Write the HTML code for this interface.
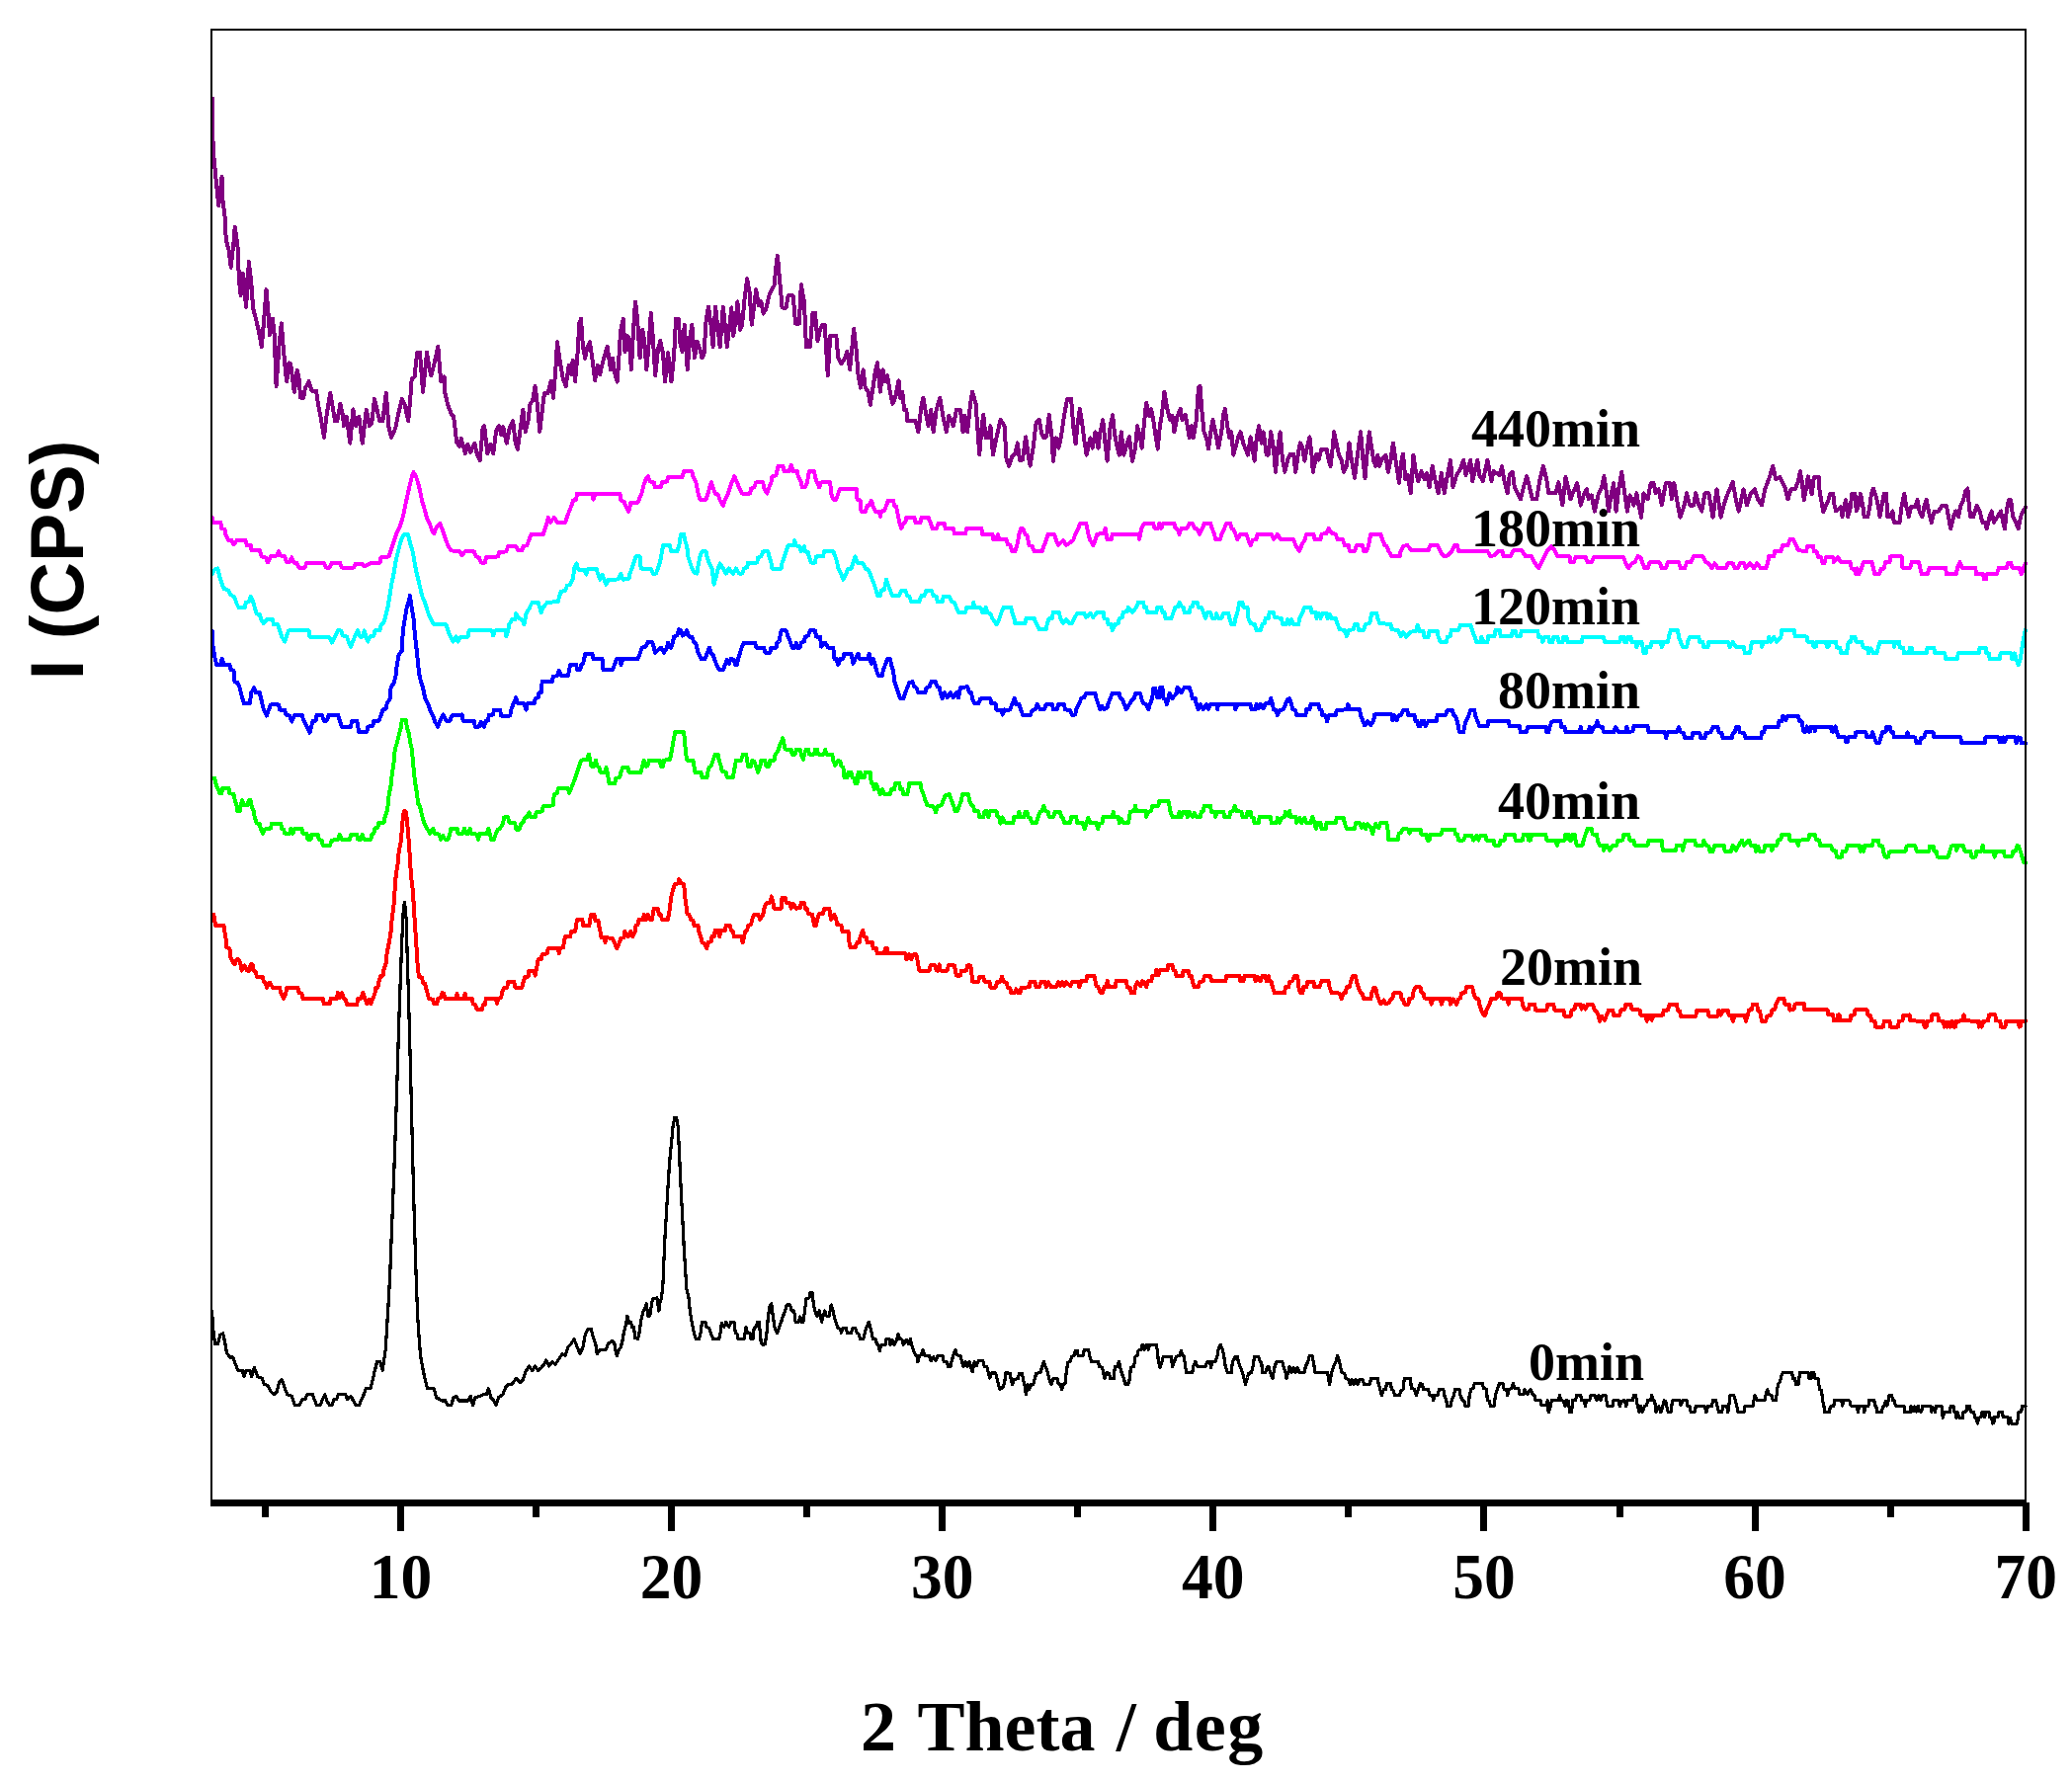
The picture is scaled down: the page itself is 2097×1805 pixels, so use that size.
<!DOCTYPE html>
<html><head><meta charset="utf-8"><title>XRD patterns</title>
<style>
html,body{margin:0;padding:0;background:#fff;}
body{width:2097px;height:1805px;overflow:hidden;}
svg{display:block;}
.tk{font-family:"Liberation Serif","Times New Roman",serif;font-weight:bold;font-size:65.5px;text-anchor:middle;fill:#000;}
.lb{font-family:"Liberation Serif","Times New Roman",serif;font-weight:bold;font-size:54px;text-anchor:end;fill:#000;}
.xt{font-family:"Liberation Serif","Times New Roman",serif;font-weight:bold;font-size:72px;text-anchor:start;fill:#000;}
.yt{font-family:"Liberation Sans",Arial,sans-serif;font-weight:bold;font-size:74px;text-anchor:middle;fill:#000;}
polyline{fill:none;stroke-linejoin:round;stroke-linecap:round;}
</style></head><body>
<svg width="2097" height="1805" viewBox="0 0 2097 1805">
<rect x="0" y="0" width="2097" height="1805" fill="#fff"/>
<g shape-rendering="crispEdges">
<polyline stroke="#000000" stroke-width="3.2" points="214.5,1327 215.7,1345.2 217.6,1360.3 220.6,1360.3 222.7,1351.2 225.7,1349.7 227.9,1360.3 229.4,1369.4 232.7,1374 235.7,1374 237.9,1380 240.9,1387.6 245.4,1387.6 246.9,1393.6 249.1,1387.6 253,1387.6 254.5,1393.6 257.5,1384.6 260.6,1393.6 265.1,1395.2 267.2,1401.2 271.2,1402.7 274.2,1408.8 277.2,1411.8 280.3,1408.8 282.4,1399.7 285.4,1396.7 287.8,1404.2 290.9,1411.8 295.4,1413.3 298.4,1422.4 303,1422.4 306,1416.4 309,1416.4 310.5,1411.8 316.6,1411.8 318.1,1416.4 320.5,1422.4 324.2,1422.4 326.6,1416.4 328.7,1411.8 330.8,1417.9 333.3,1422.4 336.3,1422.4 337.8,1416.4 340.8,1416.4 342.3,1411.8 349.9,1411.8 351.4,1416.4 355.1,1413.3 357.5,1417.9 359.9,1422.4 363.5,1422.4 366,1416.4 368.1,1411.8 370.2,1405.8 375,1405.8 377.2,1396.7 379.3,1387.6 381.7,1378.5 384.7,1378.5 387.2,1387.6 388.4,1378.5 390.2,1366.4 391.7,1342.2 393.2,1317.9 394.7,1290.7 396.2,1251.3 397.8,1211.9 399.3,1172.6 400.8,1130.2 402.3,1081.7 403.8,1033.3 405.3,990.9 406.8,951.5 408.4,918.2 409.6,913.6 411.1,930.3 412,960.6 413.2,999.9 414.4,1042.3 415.6,1087.8 416.8,1136.2 418,1184.7 419.3,1233.1 420.5,1272.5 421.7,1308.8 422.9,1336.1 424.1,1354.3 425.6,1372.4 427.7,1384.6 430.2,1396.7 432.6,1405.8 439.2,1405.8 441.7,1414.8 444.7,1416.4 446.8,1417.9 450.8,1417.9 452.9,1422.4 456.8,1422.4 458.9,1414.8 462,1413.3 464.1,1417.9 474.1,1417.9 476.2,1413.3 478.6,1422.4 481,1414.8 486.2,1413.3 489.2,1411.8 492.2,1411.8 494.4,1405.8 496.8,1414.8 499.8,1417.9 502.2,1422.4 504.4,1414.8 508.9,1411.8 511.9,1404.2 515,1401.2 518,1401.2 522.5,1395.2 526.5,1399.7 529.5,1396.7 531.6,1389.1 535.6,1383 538.6,1387.6 541.6,1383 544.6,1387.6 547.7,1384.6 550.7,1381.5 552.8,1377 555.8,1383 558.9,1378.5 561.9,1381.5 564.9,1377 568.9,1370.9 571.9,1372.4 574.9,1363.4 578,1360.3 581,1355.8 584,1363.4 587,1370.9 590.1,1363.4 592.2,1351.2 595.2,1345.2 598.2,1345.2 600.4,1354.3 602.8,1360.3 604.3,1370.9 607.3,1366.4 613.4,1366.4 615.5,1360.3 620,1357.3 621.9,1360.5 622.7,1365.6 624.3,1372.7 625.9,1367.6 628.4,1363.5 630.4,1355.4 631.4,1348.3 633.4,1341.2 634.9,1332.1 636.5,1339.2 638.5,1338.2 639.5,1343.3 641.6,1343.3 642.6,1354.4 645.6,1355.4 647,1349.3 648.7,1337.2 650.7,1328.1 652.7,1324 654.3,1319.9 655.7,1332.1 657.8,1332.1 658.8,1325 660.4,1314.9 664.9,1313.9 665.9,1321 666.9,1327 667.9,1318.9 669.5,1313.9 671,1298.7 672,1274.3 673,1252 674.6,1225.7 676,1201.4 677.6,1177 679.5,1156.8 681.1,1140.5 682.7,1131.4 684.7,1131.4 686.2,1140.5 687.2,1160.8 688.4,1187.2 689.8,1215.5 691.2,1241.9 692.2,1262.2 693.7,1286.5 694.9,1304.7 696.9,1312.9 698.3,1327 700.3,1339.2 702.4,1349.3 704.4,1355.4 707.4,1355.4 709.1,1349.3 710.5,1338.2 713.9,1338.2 715.1,1343.3 717.6,1344.3 719.6,1350.4 721.6,1355.4 727.7,1355.4 729.3,1348.3 730.3,1339.2 732.8,1343.3 734.8,1338.2 737.8,1343.3 739.9,1338.2 742.9,1338.2 744.3,1349.3 746,1350.4 747,1355.4 753.1,1355.4 754.1,1349.3 755.1,1343.3 756.5,1349.3 759.1,1349.3 760.1,1355.4 762.2,1355.4 763.2,1344.3 765.2,1343.3 766.6,1338.2 768.3,1338.2 769.3,1349.3 770.3,1359.5 772.3,1361.5 774.3,1360.5 776,1349.3 777.4,1333.1 778.8,1323 780.8,1319.9 782.4,1333.1 784.1,1344.3 786.5,1349.3 788.5,1344.3 790.6,1338.2 792.6,1332.1 794.6,1327 796.2,1321 799.7,1321 801.1,1327 803.7,1327 805.1,1338.2 807.8,1338.2 809.8,1333.1 810.8,1338.2 812.9,1338.2 814.5,1327 815.9,1314.9 818.9,1313.9 819.9,1308.8 822,1308.8 823.4,1319.9 824.6,1327 827,1332.1 829.1,1327 830.5,1333.1 831.7,1338.2 833.1,1332.1 834.7,1327 836.2,1332.1 839.2,1332.1 841.2,1321 843.3,1327 844.3,1333.1 845.7,1337.2 847.7,1344.3 850.4,1345.3 851.4,1349.3 853.4,1344.3 856.4,1344.3 857.4,1349.3 861.5,1349.3 863.1,1344.3 865.6,1344.3 867.2,1349.3 869.2,1350.4 870.6,1355.4 873.7,1355.4 875.3,1349.3 876.7,1344.3 879.3,1338.2 880.8,1343.3 882.2,1349.3 883.4,1355.4 885.8,1355.4 887.5,1360.5 888.9,1361.5 890.3,1367.6 891.9,1361.5 896,1361.5 897,1355.4 900,1355.4 901,1361.5 903.1,1356.4 905.1,1361.5 907.7,1356.4 909.1,1350.4 910.6,1355.4 913.2,1356.4 914.2,1361.5 917.3,1356.4 919.3,1360.5 921.3,1355.4 922.7,1361.5 924.3,1366.6 926.4,1371.6 928,1372.7 928.8,1378.7 930.4,1372.7 932.5,1371.6 934.1,1366.6 936.1,1372.7 940.6,1372.7 942.2,1377.7 944.6,1373.7 947.1,1377.7 949.1,1372.7 954.3,1372.7 955.2,1378.7 958.4,1378.7 959.8,1383.8 961.8,1383.8 963.3,1377.7 964.9,1371.6 966.9,1366.6 968.5,1371.6 972,1372.7 973.4,1377.7 975,1383.8 977.1,1378.7 979.1,1383.8 981.1,1378.7 982.7,1383.8 984.1,1388.9 986.2,1378.7 988.2,1382.8 990.2,1377.7 994.9,1377.7 996.3,1383.8 998.9,1383.8 1000.4,1389.9 1001.8,1395 1003.4,1389.9 1007.5,1389.9 1009.1,1396 1010.5,1402 1011.9,1406.1 1014.6,1405.1 1016.6,1400 1018,1389.9 1020,1389.9 1022.3,1390.5 1023.3,1396.6 1024.7,1401.6 1026.4,1396.6 1030.4,1395.5 1031.4,1390.5 1034.5,1390.5 1035.5,1396.6 1036.9,1401.6 1038.5,1411.8 1040.1,1401.6 1041.6,1406.7 1043.6,1401.6 1045.6,1401.6 1047,1396.6 1048.7,1390.5 1053.1,1389.5 1054.7,1383.4 1056.4,1378.3 1058.4,1384.4 1060.4,1389.5 1061.8,1395.5 1063.9,1401.6 1065.9,1395.5 1069.9,1395.5 1071,1400.6 1073.4,1401.6 1074.6,1406.7 1076,1401.6 1078,1400.6 1079.1,1390.5 1080.7,1379.3 1083.1,1378.3 1084.7,1373.2 1087.2,1372.2 1088.2,1367.2 1090.2,1367.2 1091.2,1372.2 1096.3,1372.2 1097.3,1366.2 1101.4,1366.2 1103,1373.2 1104.4,1378.3 1111.5,1378.3 1112.5,1383.4 1115.5,1384.4 1116.6,1389.5 1118,1395.5 1120,1389.5 1122.6,1390.5 1123.7,1395.5 1127.3,1395.5 1128.3,1383.4 1130.8,1383.4 1132.4,1378.3 1133.8,1384.4 1135.4,1390.5 1137.4,1395.5 1138.9,1401.6 1141.5,1401.6 1143.5,1395.5 1144.3,1384.4 1147.6,1383.4 1149,1373.2 1151,1372.2 1152,1367.2 1155.1,1366.2 1156.1,1361.1 1158.1,1366.2 1160.1,1361.1 1162.2,1366.2 1163.8,1361.1 1170.3,1361.1 1171.3,1367.2 1172.3,1377.3 1173.9,1384.4 1176,1378.3 1177.4,1373.2 1185.5,1373.2 1186.5,1383.4 1188.5,1378.3 1190.6,1373.2 1194.2,1372.2 1195.2,1367.2 1196.6,1372.2 1198.3,1373.2 1199.7,1383.4 1200.7,1389.5 1206.8,1389.5 1207.8,1383.4 1209.8,1378.3 1211.8,1383.4 1219.9,1383.4 1222,1378.3 1224.6,1378.3 1225.6,1384.4 1227,1378.3 1230.1,1378.3 1232.1,1372.2 1233.1,1366.2 1235.2,1361.1 1237.2,1366.2 1238.8,1373.2 1240.2,1383.4 1242.2,1389.5 1246.3,1389.5 1247.3,1379.3 1250.4,1373.2 1252.4,1373.2 1253.4,1379.3 1255.4,1384.4 1257.4,1389.5 1259.1,1395.5 1260.5,1401.6 1262.5,1394.5 1263.5,1390.5 1266.6,1389.5 1268,1383.4 1269.6,1373.2 1273.7,1373.2 1275.3,1378.3 1276.7,1379.3 1277.7,1389.5 1280.8,1389.5 1282.2,1384.4 1283.8,1383.4 1285.8,1389.5 1287.9,1395.5 1289.9,1384.4 1291.9,1378.3 1297.6,1378.3 1299,1383.4 1301,1389.5 1302,1395.5 1303.7,1389.5 1305.1,1383.4 1307.1,1389.5 1309.1,1384.4 1311.2,1389.5 1313.2,1384.4 1315.2,1389.5 1320.3,1389.5 1321.3,1383.4 1323.9,1378.3 1325.4,1372.2 1328,1372.2 1329.4,1379.3 1331,1389.5 1343.6,1389.5 1344.6,1395.5 1345.6,1401.6 1347.7,1389.5 1349.7,1383.4 1351.7,1379.3 1353.7,1372.2 1355.8,1379.3 1357.8,1389.5 1360.8,1390.5 1361.8,1395.5 1364.9,1396.6 1366.5,1401.6 1367.9,1396.6 1370,1401.6 1372,1396.6 1374,1401.6 1376,1396.6 1379.1,1396.6 1380.7,1401.6 1386.2,1401.6 1387.6,1395.5 1394.3,1395.5 1395.3,1401.6 1396.9,1406.7 1398.3,1412.8 1400.4,1406.7 1402.4,1406.7 1403.4,1400.6 1407.5,1400.6 1408.5,1406.7 1410.5,1407.7 1411.5,1412.8 1416.6,1412.8 1417.6,1407.7 1420,1406.7 1421.3,1395.3 1427.4,1395.3 1428.4,1405.4 1431.4,1406.4 1433.4,1412.5 1435.5,1406.4 1437.5,1400.3 1439.5,1401.4 1440.5,1406.4 1445.6,1406.4 1447,1412.5 1449.7,1412.5 1450.7,1417.6 1452.3,1412.5 1455.1,1412.5 1456.4,1406.4 1460.8,1406.4 1461.8,1412.5 1463.9,1417.6 1464.5,1423.7 1467.9,1423.7 1469.3,1417.6 1471.4,1412.5 1472.6,1406.4 1477,1406.4 1478,1412.5 1480.1,1417.6 1482.1,1418.6 1483.1,1423.7 1486.2,1423.7 1487.2,1412.5 1488.8,1406.4 1491.2,1405.4 1492.2,1400.3 1500.3,1400.3 1501.4,1405.4 1504.4,1406.4 1505.4,1417.6 1507.4,1418.6 1508.5,1423.7 1511.9,1423.7 1513.5,1412.5 1515.5,1406.4 1517.6,1400.3 1521.2,1400.3 1522.2,1406.4 1524.7,1406.4 1525.7,1412.5 1527.3,1406.4 1529.7,1405.4 1531.4,1400.3 1532.8,1405.4 1536.8,1405.4 1537.8,1411.5 1541.9,1411.5 1542.9,1406.4 1546,1411.5 1549,1406.4 1551,1411.5 1553.1,1412.5 1554.1,1417.6 1559.1,1417.6 1560.1,1422.6 1565.2,1422.6 1566.2,1417.6 1567.2,1429.7 1569.3,1423.7 1570.3,1417.6 1577.4,1417.6 1578.4,1412.5 1580.4,1417.6 1582.4,1418.6 1584.1,1423.7 1585.5,1417.6 1587.5,1418.6 1588.5,1429.7 1590.6,1429.7 1591.6,1417.6 1594.6,1417.6 1595.6,1412.5 1599.7,1412.5 1600.7,1417.6 1603.7,1417.6 1604.3,1423.7 1605.8,1417.6 1608.8,1417.6 1609.8,1412.5 1613.9,1412.5 1615.9,1417.6 1617.9,1412.5 1619.9,1417.6 1622,1412.5 1625,1412.5 1626,1418.6 1627,1423.7 1632.1,1423.7 1633.1,1417.6 1638.2,1417.6 1639.2,1423.7 1641.2,1418.6 1644.3,1417.6 1645.7,1423.7 1647.3,1417.6 1652.4,1417.6 1653.4,1412.5 1655.4,1412.5 1656.4,1417.6 1657.4,1423.7 1659.1,1429.7 1660.5,1423.7 1661.9,1429.7 1664.5,1423.7 1666.6,1422.6 1667.6,1417.6 1670.6,1417.6 1671.6,1412.5 1673.3,1417.6 1674.7,1418.6 1676.1,1429.7 1678.7,1423.7 1680.8,1429.7 1682.8,1423.7 1684.2,1417.6 1685.8,1418.6 1686.8,1423.7 1688.3,1429.7 1690.9,1429.7 1691.9,1422.6 1692.9,1417.6 1700,1417.6 1701,1422.6 1703.1,1417.6 1707.1,1417.6 1708.1,1423.7 1710.2,1423.7 1711.2,1429.7 1715.2,1429.7 1716.2,1423.7 1725.4,1423.7 1726.8,1429.7 1728.4,1423.7 1732.5,1423.7 1733.5,1417.6 1736.5,1417.6 1738.1,1423.7 1739.5,1429.7 1742.6,1429.7 1743.6,1423.7 1747.7,1423.7 1748.7,1429.7 1749.7,1423.7 1751.1,1412.5 1754.8,1412.5 1756.4,1417.6 1757.8,1423.7 1759.2,1429.7 1764.9,1429.7 1765.9,1423.7 1774,1423.7 1775,1417.6 1776,1412.5 1778.1,1417.6 1786.2,1417.6 1787.2,1411.5 1788.8,1406.4 1790.2,1411.5 1792.9,1412.5 1794.3,1417.6 1797.3,1417.6 1798.3,1410.5 1799.4,1401.4 1801.4,1399.3 1802.4,1394.3 1804.4,1389.2 1813.5,1389.2 1814.6,1395.3 1816.6,1395.3 1817.6,1401.4 1820,1401.4 1820.8,1395.9 1821.5,1389.5 1830.1,1389.5 1830.8,1395.2 1833,1395.2 1833.7,1389.5 1835.8,1389.5 1836.6,1395.2 1840.1,1395.2 1840.9,1401.6 1841.6,1406.7 1843.7,1407.4 1844.4,1417.4 1845.9,1423.1 1846.6,1429.6 1851.6,1429.6 1852.3,1423.9 1855.9,1423.1 1856.6,1417.4 1863.8,1417.4 1864.5,1423.1 1865.9,1417.4 1871,1417.4 1872.4,1418.8 1873.1,1423.1 1879.6,1423.1 1880.3,1429.6 1881.7,1423.1 1886,1423.1 1886.7,1429.6 1888.2,1423.1 1891,1423.1 1891.7,1417.4 1896.8,1417.4 1897.5,1423.1 1898.9,1423.9 1899.6,1429.6 1904.6,1429.6 1905.4,1423.9 1907.5,1423.1 1908.2,1418.1 1909.7,1423.1 1911.1,1418.1 1911.8,1412.4 1914.7,1412.4 1915.4,1417.4 1917.5,1418.1 1918.3,1423.1 1926.9,1423.1 1927.6,1429.6 1933.3,1429.6 1934,1423.1 1936.2,1428.9 1937.6,1423.9 1939.8,1428.9 1941.2,1423.1 1942.6,1428.9 1944.8,1428.9 1945.5,1423.1 1954.1,1423.1 1954.8,1429.6 1956.2,1424.6 1958.4,1429.6 1959.8,1423.1 1964.9,1423.1 1965.6,1429.6 1966.3,1435.3 1967.7,1429.6 1973.5,1429.6 1974.2,1423.1 1977,1423.1 1977.8,1428.9 1979.2,1429.6 1979.9,1435.3 1981.3,1429.6 1982.8,1435.3 1986.4,1435.3 1987.1,1429.6 1989.9,1428.9 1990.7,1423.1 1993.5,1423.1 1994.2,1428.9 1997.8,1429.6 1998.5,1435.3 2000,1436 2001.4,1441.1 2002.8,1435.3 2005,1434.6 2005.7,1429.6 2007.9,1429.6 2008.6,1434.6 2010,1429.6 2012.9,1429.6 2013.6,1434.6 2015.7,1435.3 2016.5,1441.1 2017.9,1440.3 2018.6,1434.6 2022.2,1434.6 2022.9,1429.6 2026.5,1429.6 2027.2,1434.6 2032.2,1434.6 2032.9,1441.1 2034.4,1435.3 2035.8,1441.1 2041.5,1441.1 2042.3,1435.3 2043,1429.6 2045.8,1428.9 2046.6,1423.1 2050.1,1423.1"/>
<polyline stroke="#ff0000" stroke-width="4.0" points="214.6,925.8 216.2,925.8 217.2,931.8 218.2,936.9 226.4,936.9 227.4,943 228.4,949.1 229.4,959.2 232.4,960.2 233.4,969.3 235.5,973.4 237.5,976.4 239.5,971.4 241.6,971.4 243.6,976.4 244.6,982.5 247.6,977.4 249.7,982.5 252.7,982.5 253.7,976.4 255.7,976.4 256.8,982.5 258.8,983.5 259.8,988.6 265.9,988.6 266.9,993.7 268.9,994.7 269.9,999.7 273,994.7 276,999.7 283.1,999.7 284.1,1004.8 287.2,1010.9 289.2,1005.8 290.2,999.7 301.4,999.7 302.4,1004.8 305.4,1005.8 306.4,1010.9 326.7,1010.9 327.7,1016 333.8,1016 334.8,1010.9 340.9,1010.9 341.9,1004.8 343.9,1009.9 346,1004.8 348,1010.9 350,1011.9 351,1017 361.2,1017 362.2,1010.9 365.2,1010.9 367.2,1004.8 369.3,1010.9 371.3,1016 373.3,1011.9 375.3,1016 377.4,1010.9 379.4,1005.8 380.4,999.7 382.4,999.7 383.5,993.7 385.5,987.6 387.5,987.6 388.5,981.5 390.6,975.4 391.6,965.3 393.6,955.2 395.6,943 396.6,930.8 398.7,914.6 399.7,898.4 400.7,886.2 402.7,874.1 403.7,861.9 405.8,851.8 406.8,839.6 407.8,827.4 408.8,821.4 410.8,821.4 411.8,829.5 412.9,841.6 413.9,853.8 414.9,868 415.9,886.2 417.9,902.4 418.9,918.7 419.9,934.9 421,951.1 422,967.3 423,981.5 424,988.6 427,989.6 428.1,994.7 430.1,995.7 432.1,1003.8 434.1,1010.9 438.2,1011.9 439.2,1016 442.2,1016 443.3,1010.9 446.3,1009.9 447.7,1004.8 449.3,1005.8 450.4,1010.9 461.5,1010.9 462.5,1005.8 463.5,1010.9 469.6,1010.9 470.6,1005.8 471.6,1010.9 477.7,1010.9 478.7,1016 480.8,1017 482.8,1022 487.9,1022 488.9,1017 490.9,1017 491.9,1010.9 502,1010.9 503.1,1016 504.1,1010.9 507.1,1009.9 508.1,1004.8 510.2,999.7 513.2,999.7 514.2,993.7 520.3,993.7 521.3,999.7 528.4,999.7 529.4,994.7 531.4,988.6 534.5,988.6 535.5,982.5 540.6,982.5 541.6,987.6 543.6,977.4 544.6,971.4 547.7,971.4 548.7,966.3 553.7,965.3 554.8,960.2 564.9,960.2 565.9,965.3 566.9,960.2 570,959.2 571,953.1 572,948.1 577.1,948.1 578.1,943 582.1,943 583.1,936.9 584.1,930.8 589.2,930.8 590.2,936.9 596.3,936.9 597.3,930.8 598.3,925.8 601.4,925.8 602.4,931.8 605.4,931.8 606.4,937.9 607.5,943 608.5,949.1 611.5,949.1 612.5,954.1 613.5,949.1 620,950.1 622.3,955.2 624.3,960.2 626.4,955.2 628.4,950.1 631.4,949.1 632.4,943 635.5,948.1 638.5,943 640.5,948.1 642.6,943 643.6,936.9 645.6,935.9 646.6,930.8 650.7,930.8 651.7,925.8 653.7,930.8 655.7,925.8 657.8,930.8 659.8,930.8 660.8,925.8 661.8,919.7 665.9,919.7 666.9,925.8 668.9,925.8 669.9,930.8 676,930.8 677,924.7 678,919.7 679.1,908.5 681.1,900.4 683.1,895.3 686.2,894.3 687.2,890.3 689.2,894.3 692.2,895.3 693.2,908.5 694.3,914.6 695.3,924.7 697.3,925.8 699.3,930.8 701.4,931.8 702.4,936.9 706.4,936.9 707.4,943 709.5,949.1 710.5,954.1 713.5,955.2 715.1,960.2 716.6,954.1 719.6,953.1 720.6,948.1 722.6,948.1 723.7,942 726.7,942 728.1,948.1 729.7,942 733.8,942 734.8,936.9 738.9,936.9 739.9,942 741.9,943 742.9,948.1 750,948.1 751.6,954.1 753.1,948.1 754.1,943 756.1,942 757.1,936.9 760.1,935.9 761.2,930.8 763.2,925.8 767.2,925.8 769.3,930.8 772.3,925.8 773.3,919.7 775.3,914.6 779.4,913.6 780.8,907.5 782.4,913.6 783.5,919.7 790.6,919.7 791.6,908.5 794.6,908.5 795.6,913.6 799.7,914.6 800.7,919.7 802.7,914.6 805.8,919.7 809.8,918.7 810.8,913.6 813.9,913.6 814.9,919.7 816.9,919.7 817.9,924.7 822,925.8 823,930.8 824,936.9 826,936.9 827,930.8 829.1,924.7 833.1,924.7 834.1,919.7 839.2,919.7 840.2,925.8 841.2,930.8 844.3,925.8 846.3,930.8 847.3,935.9 851.4,936.9 852.4,943 858.5,943 859.5,954.1 860.5,959.2 865.6,959.2 867.6,954.1 869.6,954.1 870.6,948.1 873.3,942 874.7,948.1 876.7,949.1 877.7,954.1 882.8,954.1 883.8,960.2 886.8,960.2 887.9,965.3 895,965.3 896,960.2 898,960.2 899,965.3 916.2,965.3 917.3,971.4 920.3,966.3 922.3,971.4 924.3,966.3 927.4,966.3 928.4,971.4 929.4,977.4 930.4,982.5 940.6,982.5 941.6,977.4 946.6,977.4 947.7,982.5 949.7,982.5 950.7,976.4 951.7,982.5 958.8,982.5 959.8,977.4 965.9,977.4 966.9,982.5 967.9,987.6 972,987.6 973,982.5 978.1,982.5 979.1,977.4 982.1,977.4 983.1,982.5 984.1,993.7 990.2,993.7 991.2,988.6 995.3,988.6 996.3,993.7 1001.4,993.7 1002.4,999.7 1007.5,999.7 1009.5,993.7 1012.5,993.7 1013.9,988.6 1015.6,993.7 1018.6,994.7 1020,999.7 1022.3,1000.2 1023.3,1005.3 1026.4,1005.3 1028.4,1001.2 1030.4,1005.3 1032.4,1005.3 1033.4,1000.2 1041.6,999.2 1042.6,994.1 1047.6,994.1 1048.7,999.2 1051.7,999.2 1053.7,994.1 1057.8,994.1 1058.8,999.2 1060.8,994.1 1063.9,999.2 1068.9,999.2 1071,994.1 1073,998.2 1075,994.1 1077,998.2 1079.1,994.1 1083.1,998.2 1085.1,994.1 1091.2,994.1 1092.2,999.2 1094.3,993.1 1099.3,993.1 1100.3,988.1 1107.4,988.1 1108.5,993.1 1109.5,998.2 1111.5,999.2 1113.5,1004.3 1115.5,1005.3 1117.6,999.2 1119.6,999.2 1120.6,993.1 1122.6,999.2 1128.7,999.2 1129.7,993.1 1139.9,993.1 1140.9,999.2 1143.9,1000.2 1144.9,1005.3 1148,1005.3 1149,999.2 1151,994.1 1154.1,998.2 1156.1,993.1 1158.1,994.1 1160.1,999.2 1162.2,993.1 1165.2,993.1 1166.2,988.1 1169.3,987 1170.3,982 1172.3,987 1174.3,982 1181.4,982 1182.4,976.9 1186.5,976.9 1187.5,982 1189.5,983 1190.6,988.1 1196.6,988.1 1197.6,983 1202.7,983 1203.7,988.1 1205.8,988.1 1206.8,993.1 1208.8,999.2 1212.9,999.2 1213.9,994.1 1217.9,993.1 1218.9,988.1 1225,988.1 1226,993.1 1240.2,993.1 1241.2,988.1 1254.4,988.1 1255.4,993.1 1258.5,993.1 1259.5,988.1 1269.6,988.1 1270.6,993.1 1272.7,989.1 1275.7,993.1 1277.7,988.1 1280.8,988.1 1281.8,993.1 1283.8,988.1 1284.8,993.1 1286.8,994.1 1287.9,999.2 1289.9,1005.3 1300,1005.3 1301,999.2 1304.1,999.2 1305.1,994.1 1308.1,993.1 1310.2,988.1 1313.2,988.1 1314.2,999.2 1316.2,1005.3 1318.3,1005.3 1319.3,999.2 1322.3,999.2 1323.3,994.1 1329.4,994.1 1330.4,999.2 1335.5,999.2 1337.5,993.1 1344.6,993.1 1345.6,999.2 1347.7,1005.3 1353.7,1005.3 1355.8,1006.3 1357.8,1011.4 1359.8,1005.3 1361.8,1005.3 1362.9,999.2 1365.9,999.2 1366.9,994.1 1368.9,988.1 1372,988.1 1373,994.1 1375,1000.2 1377.1,1005.3 1379.1,1006.3 1380.1,1011.4 1387.2,1011.4 1388.2,1005.3 1390.2,1000.2 1392.3,1000.2 1393.3,1006.3 1395.3,1011.4 1397.3,1016.4 1400.4,1012.4 1402.4,1016.4 1405.4,1015.4 1407.5,1011.4 1409.5,1010.4 1410.5,1005.3 1417.6,1005.3 1418.6,1011.4 1420,1011.4 1421.3,1016.6 1425.3,1016.6 1426.4,1010.5 1429.4,1010.5 1430.4,1004.4 1432.4,999.3 1437.5,999.3 1438.5,1004.4 1440.5,1005.4 1441.6,1010.5 1447.6,1010.5 1448.7,1016.6 1450.7,1010.5 1457.8,1010.5 1458.8,1016.6 1460.8,1010.5 1466.9,1010.5 1467.9,1016.6 1471,1011.5 1474,1016.6 1476,1011.5 1478,1010.5 1479.1,1005.4 1483.1,1004.4 1484.1,999.3 1490.2,999.3 1491.2,1004.4 1493.2,1010.5 1496.3,1011.5 1497.3,1016.6 1499.3,1022.6 1501.4,1027.7 1503.4,1027.7 1504.4,1022.6 1507.4,1016.6 1509.5,1010.5 1514.5,1010.5 1515.5,1005.4 1518.6,1005.4 1519.6,1010.5 1525.7,1010.5 1526.7,1016.6 1527.7,1010.5 1539.9,1010.5 1540.9,1016.6 1542.9,1021.6 1547,1021.6 1548,1016.6 1553.1,1016.6 1554.1,1022.6 1565.2,1022.6 1566.2,1016.6 1572.3,1016.6 1573.3,1022.6 1582.4,1022.6 1583.5,1028.7 1589.5,1028.7 1590.6,1022.6 1593.6,1021.6 1594.6,1016.6 1599.7,1016.6 1600.7,1021.6 1602.7,1017.6 1604.7,1021.6 1606.8,1016.6 1611.8,1016.6 1613.9,1022.6 1615.9,1023.7 1617.9,1028.7 1618.9,1033.8 1621,1028.7 1624,1032.8 1626,1027.7 1628.1,1022.6 1632.1,1022.6 1633.1,1027.7 1639.2,1027.7 1640.2,1022.6 1644.3,1021.6 1645.3,1016.6 1650.4,1016.6 1651.4,1021.6 1659.5,1022.6 1660.5,1027.7 1665.6,1027.7 1666.6,1033.8 1668.6,1027.7 1670.6,1027.7 1671.6,1032.8 1673.7,1027.7 1682.8,1027.7 1683.8,1022.6 1687.9,1022.6 1689.9,1016.6 1697,1016.6 1698,1022.6 1700,1023.7 1701,1028.7 1716.2,1028.7 1717.3,1022.6 1728.4,1022.6 1729.4,1028.7 1738.5,1028.7 1739.5,1022.6 1741.6,1027.7 1743.6,1022.6 1748.7,1022.6 1749.7,1027.7 1752.7,1027.7 1753.7,1033.8 1755.8,1027.7 1765.9,1027.7 1766.9,1033.8 1768.9,1027.7 1770,1022.6 1773,1021.6 1774,1016.6 1778.1,1016.6 1779.1,1022.6 1781.1,1023.7 1783.1,1033.8 1787.2,1033.8 1788.2,1028.7 1792.3,1027.7 1793.3,1022.6 1796.3,1021.6 1797.3,1016.6 1800.4,1010.5 1805.4,1010.5 1806.4,1016.6 1810.5,1016.6 1811.5,1022.6 1815.6,1021.6 1816.6,1016.6 1820,1015.5 1825.8,1016 1826.5,1022.4 1849.5,1022.4 1850.2,1027.4 1855.2,1027.4 1855.9,1033.2 1859.5,1033.2 1860.2,1027.4 1861.6,1027.4 1862.4,1033.2 1872.4,1033.2 1873.1,1028.2 1876.7,1027.4 1877.4,1022.4 1889.6,1022.4 1890.3,1027.4 1893.2,1028.2 1893.9,1033.2 1897.5,1033.9 1898.2,1039.6 1906.1,1039.6 1906.8,1033.9 1912.5,1033.9 1913.2,1039.6 1921.1,1039.6 1921.8,1033.9 1925.4,1033.2 1926.1,1028.2 1932.6,1027.4 1933.3,1033.2 1946.9,1033.9 1947.6,1039.6 1949.8,1039.6 1950.5,1033.9 1954.8,1033.2 1955.5,1027.4 1961.3,1027.4 1962,1033.2 1967,1033.9 1967.7,1039.6 1969.2,1034.6 1970.6,1039.6 1972,1034.6 1973.5,1039.6 1975.6,1033.9 1977,1039.6 1979.2,1039.6 1979.9,1033.9 1986.4,1033.2 1987.5,1027.4 1988.1,1033.2 2002.1,1033.9 2002.8,1039.6 2004.3,1034.6 2005.7,1039.6 2007.1,1033.9 2012.2,1033.2 2012.9,1027.4 2019.3,1027.4 2020,1033.2 2024.3,1033.9 2025.1,1039.6 2029.4,1039.6 2030.1,1033.9 2042.3,1033.9 2043.7,1039.6 2045.1,1038.9 2045.8,1033.9 2050.1,1033.9"/>
<polyline stroke="#00ff00" stroke-width="4.0" points="214.6,787.9 217.2,787.9 218.2,793 220.3,798 222.3,803.1 224.3,803.1 225.3,798 231.4,798 232.4,803.1 236.5,804.1 237.5,809.2 239.5,815.3 240.5,821.4 242.6,821.4 243.6,815.3 245,810.2 246.6,815.3 250.7,815.3 251.7,810.2 253.7,810.2 254.7,816.3 256.8,821.4 257.8,827.4 259.8,833.5 262.8,833.5 263.9,839.6 265.9,843.7 267.9,839.6 274,838.6 275,833.5 284.1,833.5 285.1,838.6 287.2,839.6 288.2,843.7 293.2,843.7 294.3,838.6 296.3,843.7 298.3,838.6 305.4,838.6 306.4,843.7 310.5,843.7 311.5,849.7 314.5,849.7 315.5,844.7 321.6,844.7 322.6,849.7 325.7,850.8 326.7,855.8 333.8,855.8 335.8,850.8 341.9,849.7 343.9,844.7 346,849.7 354.1,849.7 355.1,844.7 361.2,844.7 362.2,849.7 365.2,849.7 366.6,844.7 368.3,849.7 375.3,849.7 376.4,844.7 378.4,843.7 379.4,838.6 382.4,837.6 383.5,832.5 388.5,832.5 389.5,827.4 391.6,821.4 392.6,815.3 393.6,805.1 395.6,795 396.6,784.9 398.7,770.7 399.7,758.5 401.7,752.4 403.7,744.3 405.8,736.2 406.8,729.1 410.8,729.1 411.8,736.2 413.9,742.3 414.9,750.4 416.9,758.5 417.9,770.7 418.9,780.8 419.9,791 422,803.1 423,813.2 425,816.3 427,825.4 429.1,832.5 432.1,838.6 435.2,843.7 438.2,838.6 440.2,843.7 444.3,844.7 446.3,849.7 448.3,845.7 450.4,849.7 453.4,849.7 455.4,843.7 456.4,838.6 462.5,838.6 463.5,843.7 468.6,843.7 470,838.6 471.6,843.7 474.7,843.7 475.7,838.6 476.7,843.7 482.8,844.7 483.8,849.7 485.8,843.7 492.9,843.7 494.3,838.6 496,844.7 497,849.7 500,849.7 502,843.7 504.1,839.6 506.1,838.6 509.1,833.5 510.2,827.4 514.2,827.4 515.2,832.5 521.3,833.5 522.3,839.6 525.4,839.6 527.4,833.5 529.4,832.5 531.4,827.4 533.5,827.4 535.5,822.4 537.5,827.4 541.6,827.4 542.6,822.4 548.7,821.4 549.7,816.3 559.8,815.3 560.8,804.1 563.9,803.1 564.9,798 575,798 576,803.1 578.1,798 580.1,793 582.1,787.9 584.1,781.8 586.2,775.7 588.2,769.7 594.3,768.7 595.9,763.6 597.3,769.7 598.3,775.7 601.4,775.7 603,769.7 604.4,775.7 606.4,776.8 607.5,781.8 612.5,781.8 613.5,776.8 614.6,781.8 616.6,793 620,793 622.3,793 623.3,787.9 627.4,786.9 628.4,781.8 630.4,776.8 635.5,776.8 636.5,781.8 648.7,781.8 649.7,776.8 651.7,769.7 653.7,775.7 655.7,774.7 656.8,769.7 667.9,769.7 668.9,775.7 671,775.7 672,769.7 678,768.7 679.1,763.6 680.1,758.5 681.1,752.4 682.1,747.4 683.1,741.3 692.2,741.3 693.2,752.4 694.3,763.6 695.3,769.7 701.4,769.7 702.4,775.7 703.4,781.8 709.5,781.8 710.5,786.9 715.5,786.9 716.6,780.8 717.6,776.8 719.6,775.7 721.6,769.7 723.7,763.6 726.7,763.6 727.7,769.7 729.7,775.7 730.8,780.8 734.8,781.8 735.8,786.9 741.9,786.9 742.9,780.8 743.9,775.7 744.9,769.7 750,769.7 752,763.6 755.1,763.6 756.1,769.7 757.1,775.7 760.1,775.7 761.2,769.7 763.2,770.7 765.2,775.7 767.2,781.8 769.3,775.7 770.3,769.7 774.3,769.7 775.3,775.7 778.4,775.7 779.4,769.7 783.5,769.7 784.5,764.6 787.5,759.5 789.5,753.4 792.2,747.4 793.6,753.4 794.6,758.5 800.7,758.5 801.7,763.6 804.7,763.6 805.8,758.5 809.8,758.5 810.8,763.6 812.9,768.7 813.9,763.6 815.9,758.5 817.9,758.5 818.9,763.6 824,763.6 825,758.5 827,758.5 828.1,763.6 834.1,763.6 835.2,758.5 836.2,763.6 842.2,763.6 843.3,769.7 845.3,774.7 848.3,769.7 850.4,770.7 851.4,775.7 853.4,776.8 854.4,786.9 857.4,786.9 858.5,781.8 861.5,781.8 862.5,786.9 864.5,787.9 865.6,793 867.6,793 868.6,781.8 870.6,781.8 871.6,786.9 874.7,786.9 875.7,781.8 880.8,781.8 881.8,793 883.8,794 884.8,799.1 886.8,794 888.9,799.1 890.9,804.1 892.9,799.1 895,804.1 901,804.1 902,799.1 905.1,799.1 906.1,793 910.2,793 911.2,799.1 913.2,799.1 914.2,804.1 918.3,804.1 919.3,799.1 920.3,793 931.4,793 932.5,799.1 934.5,804.1 936.5,810.2 938.5,815.3 944.6,816.3 947.1,822.4 948.7,816.3 952.7,815.3 954.8,810.2 956.8,805.1 960.8,804.1 962.9,810.2 964.9,815.3 966.9,821.4 968.9,821.4 971,815.3 973,810.2 974,804.1 980.1,804.1 981.1,810.2 983.1,815.3 985.2,816.3 986.2,821.4 990.2,821.4 991.2,827.4 995.3,827.4 996.3,821.4 999.4,821.4 1000.4,827.4 1001.4,821.4 1008.5,821.4 1009.5,826.4 1011.5,827.4 1012.5,833.5 1014.6,827.4 1016.6,832.5 1020,832.5 1025.3,833 1026.4,826.9 1030.4,826.9 1031.4,821.8 1032.4,826.9 1036.5,826.9 1037.5,821.8 1039.5,821.8 1040.5,826.9 1042.6,827.9 1044.6,833 1048.7,833 1050.7,826.9 1052.7,821.8 1054.7,820.8 1056.4,815.7 1057.8,820.8 1060.8,821.8 1061.8,826.9 1065.9,826.9 1067.9,821.8 1073,821.8 1074,826.9 1076,827.9 1077,833 1083.1,833 1084.1,826.9 1089.2,826.9 1090.2,833 1095.3,833 1097.9,839.1 1099.3,833 1101.4,827.9 1103.4,833 1109.5,833 1111.1,839.1 1112.5,834 1115.5,833 1116.6,826.9 1125.7,826.9 1126.7,821.8 1127.7,826.9 1131.8,826.9 1132.8,833 1134.8,828.9 1136.8,833 1141.9,833 1142.9,827.9 1143.9,821.8 1148,820.8 1149,815.7 1150,820.8 1159.1,820.8 1160.1,826.9 1162.2,821.8 1165.2,820.8 1166.2,815.7 1172.3,815.7 1173.3,810.7 1182.4,810.7 1183.5,815.7 1184.5,821.8 1186.5,826.9 1192.6,826.9 1193.6,821.8 1195.6,826.9 1197.6,821.8 1200.7,821.8 1201.7,826.9 1203.7,821.8 1206.8,826.9 1208.8,822.8 1210.8,826.9 1214.9,826.9 1215.9,821.8 1217.9,820.8 1218.9,815.7 1225,815.7 1226,821.8 1229.1,821.8 1230.1,826.9 1232.1,821.8 1238.2,821.8 1239.2,826.9 1244.3,826.9 1245.3,821.8 1248.3,820.8 1249.7,815.7 1251.4,820.8 1256.4,821.8 1257.4,826.9 1261.5,826.9 1262.5,821.8 1265.6,821.8 1266.6,826.9 1268.6,827.9 1269.6,833 1273.7,833 1274.7,826.9 1285.8,826.9 1286.8,833 1291.9,833 1292.9,827.9 1295,833 1297,827.9 1300,826.9 1301,821.8 1304.1,825.9 1305.1,820.8 1306.1,826.9 1311.2,826.9 1312.2,833 1315.2,827.9 1317.3,833 1320.3,827.9 1322.3,833 1326.4,833 1328.4,826.9 1330.4,833 1332,839.1 1333.5,833 1336.5,833 1337.5,839.1 1341.6,839.1 1342.6,833 1351.7,833 1352.7,827.9 1359.8,827.9 1360.8,833 1362.9,839.1 1371,839.1 1372,833 1376,833 1378.1,838 1380.1,834 1382.1,839.1 1384.1,834 1387.2,838 1389.2,844.1 1390.2,839.1 1392.3,834 1395.3,838 1397.3,833 1403.4,833 1404.4,839.1 1405.4,850.2 1414.6,850.2 1415.6,844.1 1417.6,843.1 1420,839.1 1425.3,839.5 1426.4,843.5 1428.4,839.5 1437.5,839.5 1438.5,844.5 1443.6,844.5 1444.6,850.6 1446.6,850.6 1447.6,844.5 1458.8,844.5 1459.8,839.5 1472,839.5 1473,844.5 1475,844.5 1476,850.6 1481.1,850.6 1483.1,845.6 1489.2,845.6 1491.2,850.6 1494.3,845.6 1496.3,850.6 1498.3,845.6 1503.4,845.6 1504.4,850.6 1511.5,850.6 1512.5,855.7 1517.6,855.7 1518.6,850.6 1522.6,850.6 1523.7,844.5 1532.8,844.5 1533.8,850.6 1540.9,850.6 1541.9,844.5 1546,844.5 1547,850.6 1549,850.6 1550,844.5 1564.2,844.5 1565.2,850.6 1574.3,850.6 1576,855.7 1577.4,850.6 1583.5,850.6 1584.5,844.5 1587.5,844.5 1588.5,850.6 1590.6,850.6 1591.6,844.5 1593.6,844.5 1594.6,850.6 1595.6,855.7 1601.7,855.7 1602.7,850.6 1604.7,844.5 1606.8,838.5 1610.8,838.5 1611.8,844.5 1615.9,844.5 1616.9,850.6 1618.9,855.7 1622,855.7 1623,860.8 1626,855.7 1629.1,860.8 1632.1,855.7 1636.2,855.7 1637.2,850.6 1642.2,850.6 1643.3,844.5 1648.3,844.5 1649.3,850.6 1653.4,850.6 1654.4,855.7 1667.6,855.7 1668.6,850.6 1681.8,850.6 1682.8,860.8 1696,860.8 1697,855.7 1702,855.7 1703.1,860.8 1704.1,855.7 1706.1,850.6 1715.2,850.6 1716.2,855.7 1723.3,855.7 1724.3,850.6 1726.4,855.7 1729.4,856.7 1730.4,861.8 1733.5,861.8 1735.5,855.7 1744.6,855.7 1745.6,861.8 1751.7,861.8 1753.7,855.7 1756.8,860.8 1759.8,855.7 1762.9,850.6 1764.9,855.7 1770,850.6 1772,855.7 1776,855.7 1777.1,861.8 1779.1,856.7 1781.1,861.8 1785.2,861.8 1786.2,855.7 1792.3,855.7 1793.3,860.8 1795.3,855.7 1798.3,855.7 1799.4,850.6 1802.4,849.6 1803.4,844.5 1810.5,844.5 1811.5,850.6 1817.6,850.6 1820,855.7 1821,850.7 1830.3,849.9 1831.1,844.8 1837,844.8 1837.9,849.9 1841.2,850.7 1842.1,855.8 1853,855.8 1854.7,860.8 1858.1,861.7 1858.9,867.5 1863.9,867.5 1864.8,861.7 1868.1,861.7 1869.8,855.8 1881.6,855.8 1882.8,861.7 1884.1,856.6 1885.8,861.7 1887.5,855.8 1895.1,855.8 1895.9,850.7 1901,850.7 1901.8,855.8 1905.2,856.6 1906,861.7 1907.7,867.5 1911.1,867.5 1911.9,862.5 1928.7,861.7 1929.6,856.6 1938,855.8 1939.7,861.7 1952.3,861.7 1953.1,856.6 1956.5,856.6 1957.3,861.7 1959.9,861.7 1960.7,867.5 1971.6,867.5 1973.3,861.7 1975,856.6 1979.2,855.8 1980,860.8 1981.7,855.8 1986.8,855.8 1988.5,861.7 1994.3,861.7 1995.2,867.5 1999.4,867.5 2000.2,861.7 2005.3,861.7 2006.6,855.8 2007.8,861.7 2017.1,861.7 2018.7,867.5 2020.4,861.7 2028,861.7 2028.8,866.7 2036.4,866.7 2037.3,861.7 2039.8,861.7 2041.5,855.8 2043.1,856.6 2044.8,861.7 2046.5,867.5 2048.2,873.4 2050.2,873.4"/>
<polyline stroke="#0000ff" stroke-width="4.0" points="214.6,638.4 215.2,652.6 217.2,664.7 219.3,672.9 223.3,672.9 224.7,666.8 226.4,672.9 232.4,672.9 233.4,677.9 236.5,678.9 237.5,690.1 240.5,691.1 242.6,696.2 244.6,704.3 247,712.4 252.7,712.4 254.3,701.2 257.2,696.2 258.8,701.2 262.8,701.2 264.9,710.4 266.9,718.5 269.9,724.5 272,718.5 274,713.4 282.1,713.4 283.1,718.5 288.2,718.5 289.2,723.5 293.2,724.5 295.3,730.6 298.3,723.5 305.4,723.5 307.4,729.6 310.5,735.7 313.5,741.8 316.6,729.6 319.6,729.6 320.6,723.5 325.7,723.5 327.7,729.6 330.8,729.6 332.8,723.5 341.9,723.5 343.9,729.6 346,735.7 355.1,735.7 356.1,729.6 361.2,729.6 363.2,740.8 371.3,740.8 372.3,735.7 377.4,734.7 378.4,729.6 383.5,729.6 385.5,724.5 387.5,718.5 390.6,717.4 391.6,712.4 394.6,707.3 395.6,696.2 398.7,691.1 400.7,683 401.7,672.9 403.7,662.7 406.8,658.7 407.8,638.4 409.8,626.2 411.8,614.1 413.9,608 414.9,602.9 416.5,614.1 418.5,626.2 419.9,642.4 422,660.7 424,681 426,690.1 428.1,696.2 430.1,706.3 433.1,712.4 435.2,718.5 438.2,724.5 440.2,730.6 443.3,735.7 445.3,729.6 448.3,723.5 451.4,729.6 455.4,729.6 457.4,724.5 467.6,723.5 468.6,729.6 479.7,729.6 480.8,735.7 484.8,735.7 486.8,730.6 489.9,735.7 491.9,729.6 493.9,729.6 495,723.5 499,723.5 500,718.5 506.1,718.5 507.1,724.5 516.2,724.5 517.3,718.5 519.3,713.4 522.3,706.3 524.3,712.4 530.4,712.4 532.5,718.5 533.5,712.4 540.6,712.4 541.6,707.3 544.6,706.3 545.6,701.2 547.7,701.2 548.7,690.1 558.8,690.1 559.8,685 563.9,684 565.9,678.9 567.9,684 575,684 577.1,672.9 583.1,672.9 584.1,677.9 587.2,677.9 588.2,672.9 590.2,671.8 592.3,661.7 599.4,661.7 600.4,666.8 609.5,666.8 610.5,677.9 620,677.9 622.3,671.8 624.3,666.8 627.4,666.8 628.4,672.9 630.4,666.8 645.6,666.8 647.6,661.7 649.7,655.6 653.7,654.6 655.7,649.5 659.8,649.5 661.8,655.6 662.8,660.7 668.9,655.6 672,660.7 675,655.6 676,650.6 679.1,655.6 681.1,649.5 682.1,644.5 685.1,643.5 687.2,637.4 689.2,638.4 690.8,643.5 693.2,642.4 695.3,638.4 697.3,644.5 700.3,644.5 702.4,650.6 704.4,651.6 706.4,660.7 709.5,666.8 713.5,666.8 715.5,661.7 718,655.6 719.6,661.7 721.6,662.7 723.7,668.8 725.7,673.9 727.7,677.9 731.8,677.9 733.8,672.9 735.8,667.8 737.8,671.8 739.9,666.8 742.9,667.8 743.9,672.9 746,672.9 747,666.8 749,660.7 751,654.6 753.1,650.6 764.2,650.6 765.2,655.6 773.3,655.6 774.3,660.7 779.4,660.7 780.4,655.6 785.5,655.6 786.5,650.6 788.5,649.5 790.6,638.4 795.6,638.4 797.6,644.5 799.7,649.5 801.7,655.6 804.7,655.6 805.8,650.6 806.8,655.6 809.8,655.6 810.8,650.6 813.9,649.5 814.9,644.5 817.9,643.5 819.9,638.4 825,638.4 826,644.5 830.1,644.5 831.1,654.6 835.2,650.6 838.2,655.6 843.3,655.6 844.3,666.8 846.3,666.8 848.3,672.9 850.4,666.8 853.4,666.8 854.4,661.7 861.5,661.7 862.5,666.8 863.5,671.8 865.6,666.8 868.6,661.7 869.6,666.8 878.7,666.8 879.7,661.7 880.8,666.8 881.8,671.8 883.8,666.8 885.8,672.9 886.8,677.9 888.9,684 892.9,684 893.9,677.9 896,672.9 898,666.8 901,666.8 902,672.9 904.1,678.9 905.1,689.1 907.1,695.2 909.1,701.2 911.2,707.3 914.2,707.3 916.2,701.2 918.3,696.2 920.3,691.1 923.3,690.1 925.4,695.2 927.4,696.2 929.4,701.2 936.5,701.2 937.5,696.2 940.6,695.2 942.6,690.1 946.6,690.1 948.7,695.2 950.7,696.2 951.7,701.2 953.7,707.3 955.8,701.2 958.8,706.3 961.8,701.2 964.9,706.3 967.9,701.2 970,706.3 972,696.2 979.1,695.2 981.1,701.2 983.1,701.2 984.1,707.3 986.2,712.4 990.2,712.4 992.3,707.3 1002.4,707.3 1003.4,712.4 1007.5,712.4 1008.5,718.5 1013.5,718.5 1014.6,723.5 1016.6,718.5 1020,719.5 1022.3,718.2 1024.3,713.1 1026.8,707 1028.4,713.1 1031.4,713.1 1033.4,719.2 1035.5,724.3 1042.6,724.3 1044.6,719.2 1047.6,718.2 1049.7,713.1 1052.7,718.2 1056.8,718.2 1058.8,713.1 1064.9,713.1 1065.9,718.2 1069.9,718.2 1071,713.1 1077,713.1 1078,718.2 1083.1,719.2 1085.1,724.3 1088.2,723.3 1089.2,718.2 1092.2,712.1 1094.3,707 1097.3,706 1099.3,702 1108.5,702 1109.5,707 1111.5,713.1 1113.5,718.2 1115.5,715.2 1117.6,718.2 1120.6,716.2 1121.6,712.1 1123.7,707 1125.7,702 1132.8,702 1133.8,707 1135.8,708.1 1137.8,713.1 1139.9,718.2 1142.9,713.1 1146,708.1 1148,707 1149,702 1154.1,702 1155.1,707 1157.1,712.1 1160.1,713.1 1162.2,718.2 1164.2,712.1 1166.2,707 1167.2,696.9 1169.3,696.9 1171.3,706 1173.3,706 1174.3,695.9 1176.4,695.9 1177.4,707 1179.4,708.1 1180.8,713.1 1182.4,707 1183.5,702 1186.5,707 1190.6,702 1191.6,695.9 1195.6,701 1198.7,695.9 1203.7,695.9 1205.8,702 1206.8,707 1209.8,707 1210.8,713.1 1212.9,718.2 1214.9,713.1 1217.9,718.2 1221,713.1 1223,718.2 1225,713.1 1231.1,713.1 1232.1,718.2 1233.1,713.1 1249.3,713.1 1250.4,718.2 1252.4,713.1 1265.6,713.1 1266.6,718.2 1270.6,718.2 1271.6,713.1 1273.7,717.2 1275.7,713.1 1278.7,717.2 1280.8,712.1 1284.8,712.1 1286.2,707 1287.9,713.1 1288.9,718.2 1291.9,719.2 1292.9,724.3 1295,719.2 1299,718.2 1301,713.1 1303.1,708.1 1305.1,707 1307.1,713.1 1308.1,718.2 1311.2,719.2 1312.2,724.3 1321.3,724.3 1322.3,718.2 1325.4,718.2 1326.4,713.1 1334.5,713.1 1335.5,718.2 1337.5,719.2 1338.5,724.3 1341.6,724.3 1343,730.4 1344.6,724.3 1351.7,724.3 1352.7,719.2 1362.9,718.2 1364.3,713.1 1365.9,718.2 1376,718.2 1377.1,724.3 1379.1,729.3 1381.1,734.4 1384.1,730.4 1387.2,734.4 1390.2,729.3 1391.2,723.3 1408.5,723.3 1409.5,729.3 1411.5,724.3 1413.5,729.3 1415.6,724.3 1417.6,724.3 1420,719.2 1424.3,718.9 1425.3,723.9 1431.4,723.9 1432.4,730 1434.5,730 1435.5,735.1 1437.5,735.1 1438.5,730 1441.6,730 1442.6,735.1 1445.6,730 1453.7,730 1454.7,723.9 1462.8,723.9 1464.9,718.9 1469.9,718.9 1471,723.9 1473,724.9 1475,731 1477,741.2 1481.1,741.2 1483.1,731 1486.2,724.9 1488.2,718.9 1492.2,718.9 1493.2,724.9 1495.3,730 1497.3,735.1 1505.4,735.1 1506.4,730 1526.7,730 1527.7,735.1 1537.8,735.1 1538.9,741.2 1544.9,741.2 1546,736.1 1564.2,736.1 1565.2,741.2 1567.2,741.2 1568.3,736.1 1570.3,731 1572.3,730 1579.4,730 1580.4,736.1 1583.5,736.1 1584.5,741.2 1598.7,741.2 1599.7,736.1 1600.7,741.2 1607.8,741.2 1608.8,736.1 1610.8,741.2 1612.9,736.1 1614.9,735.1 1616.5,730 1617.9,735.1 1622,736.1 1623,741.2 1633.1,741.2 1635.2,736.1 1638.2,741.2 1645.3,741.2 1646.3,736.1 1648.3,741.2 1652.4,740.1 1653.4,735.1 1667.6,735.1 1668.6,741.2 1684.8,741.2 1686.2,747.2 1687.9,741.2 1697,741.2 1699,736.1 1701,741.2 1704.1,742.2 1705.1,747.2 1712.2,747.2 1713.2,742.2 1720.3,742.2 1721.3,747.2 1725.4,747.2 1726.4,742.2 1731.4,741.2 1733.5,736.1 1738.5,736.1 1739.5,741.2 1742.6,742.2 1743.6,747.2 1752.7,747.2 1753.7,742.2 1755.8,741.2 1757.2,736.1 1759.8,736.1 1760.8,741.2 1764.9,742.2 1766.9,747.2 1782.1,747.2 1783.1,741.2 1785.2,741.2 1786.2,736.1 1799.4,736.1 1800.4,730 1803.4,730 1804.4,724.9 1807.5,729 1809.5,724.9 1820,724.9 1821,729.6 1823.6,730.4 1825.2,740.5 1827.8,740.5 1828.6,735.5 1830.3,740.5 1832,740.5 1832.8,735.5 1836.2,735.5 1836.7,740.5 1837.9,735.5 1853,735.5 1853.8,740.5 1856.4,740.5 1857.5,735.5 1858.9,740.5 1860.6,746.4 1867.3,746.4 1868.1,751.4 1869.8,751.4 1870.7,746.4 1877.4,746.4 1878.2,741.3 1888.3,741.3 1889.2,746.4 1893.4,746.4 1895.1,741.3 1896.8,746.4 1899.3,752.3 1901.8,752.3 1903.5,746.4 1905.2,741.3 1908.5,740.5 1909.4,735.5 1912.7,735.5 1913.6,740.5 1916.1,741.3 1916.9,746.4 1929.6,746.4 1930.4,741.3 1932.1,746.4 1938,746.4 1939.7,752.3 1943,752.3 1943.9,747.2 1947.2,746.4 1948.9,741.3 1956.5,741.3 1957.3,746.4 1984.3,746.4 1985.1,752.3 2008.6,752.3 2009.5,746.4 2023,746.4 2023.8,751.4 2026.3,751.4 2027.2,746.4 2028.8,751.4 2030.5,746.4 2039.8,746.4 2040.6,752.3 2042.3,746.4 2044.8,747.2 2045.7,752.3 2050.2,752.3"/>
<polyline stroke="#00ffff" stroke-width="4.0" points="214.6,581.6 217.2,576.6 220.3,575.5 222.3,583.7 224.3,589.7 226.4,595.8 231.4,597.8 233.4,601.9 237.5,604.9 239.5,611 241.6,615.1 247.6,615.1 248.7,610 251.7,609 253.7,603.9 255.7,608 257.8,615.1 259.8,621.2 262.8,622.2 264.9,628.3 266.9,631.3 269.9,627.2 276,627.2 277,632.3 281.1,632.3 283.1,638.4 285.1,644.5 288.2,649.5 290.2,643.5 292.2,638.4 312.5,638.4 313.5,644.5 332.8,644.5 335.8,650.6 338.9,644.5 341.9,638.4 344.9,638.4 347,643.5 351,644.5 353.1,650.6 355.1,654.6 357.1,649.5 359.1,644.5 362.2,638.4 364.2,644.5 367.2,644.5 368.7,638.4 370.3,644.5 372.3,649.5 374.3,644.5 378.4,643.5 379.4,638.4 384.5,638.4 385.5,633.3 388.5,630.3 390.6,622.2 392.6,614.1 394.6,601.9 396.6,589.7 398.7,579.6 400.7,567.4 403.7,555.3 405.8,547.2 408.8,541.1 412.9,541.1 414.9,549.2 417.9,559.3 419.9,571.5 422,581.6 425,593.8 427,602.9 430.1,610 433.1,620.1 436.2,627.2 439.2,632.3 451.4,632.3 453.4,638.4 455.4,643.5 458.5,649.5 461.5,644.5 463.5,649.5 466.6,644.5 473.7,644.5 474.7,638.4 498,638.4 499,643.5 501,638.4 511.2,638.4 512.2,644.5 514.2,638.4 515.2,632.3 518.3,627.2 521.3,627.2 522.3,621.2 525.4,626.2 528.4,627.2 530.4,632.3 532.5,621.2 535.5,616.1 538.5,610 544.6,610 547.7,620.1 549.7,615.1 553.7,610 564.9,609 565.9,603.9 567.9,598.9 572,597.8 574,592.8 577.1,591.8 580.1,585.7 581.1,575.5 583.7,570.5 585.2,576.6 591.2,576.6 593.3,581.6 595.3,575.5 603.4,575.5 605.4,581.6 607.5,586.7 609.5,581.6 611.5,586.7 613.5,591.8 615.6,586.7 620,586.7 623.3,586.7 626.4,585.7 628.4,580.6 630.4,586.7 636.5,585.7 637.5,580.6 639.5,575.5 641.6,569.5 643.6,563.4 647.6,563.4 648.7,575.5 658.8,575.5 660.8,580.6 663.9,580.6 665.9,575.5 667.9,569.5 669.9,559.3 671,552.2 678,552.2 679.1,558.3 685.1,558.3 687.2,553.2 688.2,546.2 689.2,541.1 692.2,541.1 693.2,547.2 695.3,553.2 696.3,563.4 698.3,569.5 700.3,575.5 702.4,579.6 705.4,580.6 706.4,573.5 708.5,563.4 710.5,558.3 714.5,558.3 715.5,563.4 717.6,569.5 720.6,575.5 722.6,591.8 724.7,583.7 726.7,575.5 728.7,570.5 731.8,575.5 734.8,580.6 737.8,575.5 741.9,580.6 744.9,575.5 748,580.6 751,580.6 753.1,575.5 756.1,574.5 757.1,569.5 766.2,569.5 767.2,564.4 770.3,563.4 772.3,558.3 777.4,558.3 778.4,563.4 780.4,569.5 781.4,575.5 790.6,575.5 791.6,569.5 793.6,564.4 795.6,558.3 797.6,552.2 803.7,552.2 804.3,547.2 805.1,552.2 808.8,553.2 810.8,558.3 813.9,553.2 814.9,558.3 817.9,559.3 818.9,564.4 821,569.5 825,569.5 826,563.4 833.1,563.4 834.1,558.3 843.3,558.3 845.3,563.4 847.3,569.5 848.3,575.5 851.4,581.6 853.4,586.7 856.4,580.6 858.5,575.5 861.5,575.5 863.5,569.5 865.6,563.4 867.6,569.5 873.7,570.5 875.7,575.5 878.7,576.6 880.8,581.6 882.8,586.7 884.8,591.8 886.8,597.8 887.9,602.9 890.9,602.9 891.9,597.8 895,596.8 897,586.7 899,592.8 901,597.8 903.1,602.9 910.2,602.9 912.2,597.8 916.2,597.8 918.3,602.9 920.3,603.9 922.3,609 930.4,609 932.5,602.9 935.5,602.9 937.5,597.8 942.6,597.8 944.6,602.9 947.7,603.9 948.7,609 953.7,609 954.8,603.9 960.8,603.9 962.9,609 965.9,610 967.9,615.1 970,620.1 977.1,620.1 978.1,615.1 984.1,615.1 985.2,610 986.2,615.1 992.3,615.1 994.3,620.1 996.3,620.1 997.7,615.1 999.4,620.1 1002.4,621.2 1004.4,626.2 1008.5,632.3 1011.5,626.2 1013.5,620.1 1015.6,615.1 1020,615.1 1023.3,614.8 1024.3,619.9 1026.4,626 1027.4,631 1037.5,631 1038.5,626 1046.6,626 1048.7,631 1051.7,637.1 1058.8,637.1 1059.8,631 1061.8,626 1064.9,626 1065.9,619.9 1072,619.9 1073,626 1076,631 1079.1,627 1082.1,631 1085.1,631 1087.2,626 1090.2,620.9 1097.3,620.9 1099.3,624.9 1103.4,620.9 1106.4,624.9 1110.5,619.9 1116.6,619.9 1117.6,626 1120.6,627 1121.6,632 1124.7,632 1125.7,638.1 1128.7,632 1131.8,631 1132.8,626 1135.8,624.9 1136.8,619.9 1140.9,618.9 1141.9,614.8 1146,619.9 1150,614.8 1152,609.7 1157.1,609.7 1158.1,614.8 1160.1,614.8 1161.2,619.9 1170.3,619.9 1171.3,614.8 1175.3,614.8 1176.4,619.9 1178.4,619.9 1179.4,626 1185.5,626 1187.5,619.9 1189.5,614.8 1192.6,613.8 1193.6,609.7 1195.6,613.8 1197.6,614.8 1198.7,619.9 1203.7,619.9 1204.7,614.8 1206.8,613.8 1207.8,609.7 1211.8,609.7 1212.9,614.8 1215.9,614.8 1217.9,619.9 1219.9,626 1222,619.9 1225,619.9 1227,626 1230.1,626 1231.1,620.9 1233.1,626 1236.2,626 1238.2,620.9 1243.3,620.9 1244.3,626 1246.3,632 1249.3,632 1250.4,626 1252.4,619.9 1253.4,614.8 1254.4,609.7 1257.4,609.7 1258.5,614.8 1262.5,614.8 1263.5,626 1265.6,631 1269.6,632 1271.6,638.1 1275.7,638.1 1277.7,632 1279.7,631 1280.8,626 1283.8,626 1284.8,619.9 1288.9,619.9 1289.9,624.9 1297,626 1298,632 1302,632 1303.1,627 1305.1,632 1307.1,627 1309.1,632 1314.2,632 1315.2,626 1318.3,619.9 1320.3,614.8 1326.4,614.8 1327.4,619.9 1331.4,619.9 1332.5,626 1334.5,620.9 1336.5,626 1338.5,620.9 1342.6,620.9 1343.6,626 1345.6,621.9 1347.7,626 1351.7,626 1353.7,632 1355.8,637.1 1360.8,638.1 1362.9,644.2 1364.9,638.1 1370,637.1 1371,632 1374,632 1375,638.1 1380.1,638.1 1382.1,632 1386.2,631 1388.2,620.9 1393.3,620.9 1394.3,626 1396.3,631 1407.5,632 1408.5,637.1 1414.6,638.1 1417.6,644.2 1420,640.1 1423.3,644.9 1427.4,639.8 1433.4,638.8 1434.5,632.7 1436.5,638.8 1440.5,638.8 1441.6,644.9 1445.6,644.9 1446.6,638.8 1454.7,638.8 1455.7,644.9 1457.8,649.9 1463.9,649.9 1464.9,644.9 1467.9,643.9 1468.9,637.8 1476,637.8 1478,632.7 1488.2,632.7 1490.2,638.8 1492.2,643.9 1494.3,649.9 1498.3,649.9 1499.3,644.9 1501.4,649.9 1505.4,649.9 1506.4,643.9 1512.5,643.9 1513.5,637.8 1517.6,637.8 1518.6,643.9 1529.7,643.9 1530.8,638.8 1533.8,638.8 1534.8,643.9 1538.9,643.9 1539.9,638.8 1556.1,638.8 1557.1,644.9 1560.1,644.9 1561.2,649.9 1563.2,644.9 1567.2,644.9 1568.3,649.9 1571.3,649.9 1572.3,644.9 1576.4,644.9 1577.4,649.9 1581.4,649.9 1582.4,644.9 1585.5,644.9 1586.5,649.9 1600.7,649.9 1601.7,644.9 1623,644.9 1624,649.9 1639.2,649.9 1640.2,644.9 1643.3,644.9 1644.3,649.9 1646.3,649.9 1647.3,644.9 1650.4,644.9 1651.4,649.9 1655.4,649.9 1656.4,655 1658.5,649.9 1661.5,649.9 1662.5,655 1663.5,661.1 1665.6,661.1 1666.6,655 1670.6,655 1671.6,649.9 1680.8,649.9 1681.8,655 1683.8,649.9 1687.9,649.9 1688.9,644.9 1690.9,637.8 1698,637.8 1699,644.9 1701,649.9 1703.1,655 1707.1,655 1708.1,649.9 1710.2,644.9 1719.3,644.9 1720.3,649.9 1723.3,649.9 1724.3,655 1728.4,655 1729.4,649.9 1748.7,649.9 1750.7,655 1753.7,649.9 1756.8,655 1764.9,655 1765.9,661.1 1771,661.1 1772,655 1773,649.9 1782.1,649.9 1783.1,655 1785.2,649.9 1789.2,649.9 1790.2,644.9 1792.3,649.9 1795.3,644.9 1798.3,649.9 1802.4,644.9 1803.4,637.8 1815.6,637.8 1816.6,643.9 1820,643.9 1828.6,644.6 1829.4,649.6 1834.5,649.6 1835.3,654.7 1837.9,654.7 1838.7,649.6 1848,649.6 1848.8,654.7 1850.5,654.7 1851.3,649.6 1858.1,649.6 1858.9,655.5 1862.3,655.5 1863.1,661.4 1869,661.4 1869.8,655.5 1870.7,650.5 1873.2,649.6 1874,644.6 1877.4,644.6 1878.2,649.6 1884.1,649.6 1885.8,655.5 1890,655.5 1890.9,661.4 1893.4,656.4 1895.9,661.4 1899.3,661.4 1901,655.5 1902.6,649.6 1916.1,649.6 1916.9,654.7 1918.6,649.6 1922,649.6 1922.8,655.5 1926.2,655.5 1927,661.4 1932.1,661.4 1932.9,655.5 1934.6,655.5 1935.5,661.4 1949.8,661.4 1950.6,655.5 1957.3,655.5 1958.2,661.4 1968.3,661.4 1969.1,667.3 1980.9,667.3 1981.7,661.4 2002.8,661.4 2003.6,655.5 2009.5,655.5 2010.3,661.4 2012.9,661.4 2013.7,667.3 2023.8,667.3 2024.6,661.4 2035.6,661.4 2036.4,667.3 2038.1,667.3 2038.9,661.4 2040.6,667.3 2042.8,673.2 2044.8,667.3 2046.5,655.5 2048.2,645.4 2049.9,637.9"/>
<polyline stroke="#ff00ff" stroke-width="4.0" points="214.6,523.9 215.2,528.9 223.3,528.9 224.3,535 227.4,536 228.4,541.1 231.4,547.2 234.5,547.2 236.5,551.2 239.5,547.2 248.7,547.2 249.7,552.2 253.7,552.2 254.7,557.3 262.8,557.3 264.9,563.4 268.9,564.4 271,569.5 274,563.4 280.1,562.4 282.1,558.3 284.1,562.4 288.2,563.4 290.2,569.5 293.2,568.5 295.3,564.4 297.3,569.5 300.3,569.5 302.4,574.5 308.5,574.5 310.5,569.5 327.7,569.5 329.7,574.5 333.8,574.5 335.8,569.5 343.9,569.5 346,574.5 358.1,574.5 360.1,570.5 366.2,570.5 368.3,573.5 374.3,570.5 384.5,569.5 385.5,564.4 393.6,563.4 395.6,557.3 397.6,551.2 399.7,545.1 401.7,539.1 404.7,533 406.8,526.9 408.8,518.8 410.8,508.7 412.9,499.5 414.9,490.4 416.9,482.3 418.5,478.2 421,482.3 423,488.4 425,496.5 427,506.6 430.1,516.8 432.1,524.9 435.2,531 437.2,537 439.2,540.1 442.2,533 445.3,529.9 447.3,535 449.3,541.1 451.4,547.2 453.4,552.2 456.4,557.3 465.6,558.3 467.6,562.4 470.6,558.3 479.7,558.3 481.8,563.4 484.8,564.4 486.8,569.5 490.9,569.5 491.9,564.4 504.1,563.4 505.1,559.3 512.2,558.3 514.2,553.2 522.3,553.2 524.3,557.3 528.4,557.3 529.4,553.2 533.5,552.2 535.5,546.2 537.5,541.1 549.7,541.1 551.7,535 553.7,528.9 554.8,523.9 556.8,528.9 560.8,523.9 563.9,528.9 572,528.9 574,522.8 576,517.8 578.1,512.7 580.1,506.6 583.1,505.6 584.1,499.5 600.4,499.5 600.4,505.6 602.4,499.5 620,499.5 627.4,499.5 628.4,506.6 631.4,507.6 633.4,512.7 636.1,517.8 638.5,508.7 645.6,508.7 647.6,503.6 649.7,498.5 651.7,490.4 653.7,485.3 655.7,482.3 657.8,487.4 661.8,488.4 662.8,493.4 668.9,493.4 669.9,488.4 675,487.4 676,483.3 690.2,483.3 692.2,477.2 700.3,477.2 701.4,482.3 704.4,488.4 706.4,498.5 708.5,505.6 714.5,505.6 716.6,499.5 718.6,492.4 720,488.4 721.6,493.4 723.7,499.5 726.7,500.5 728.7,506.6 731.8,511.7 733.8,505.6 736.8,499.5 738.9,493.4 740.9,487.4 743.3,482.3 746,488.4 748,493.4 751,499.5 759.1,499.5 760.1,494.5 763.2,493.4 765.2,488.4 772.3,488.4 773.3,494.5 776.4,499.5 778.4,493.4 780.4,488.4 781.4,482.3 785.5,481.3 787.5,472.2 792.6,472.2 793.6,477.2 798.7,477.2 800.7,471.1 802.7,477.2 806.8,477.2 807.8,482.3 810.8,488.4 811.8,493.4 814.9,493.4 816.9,488.4 818.9,477.2 824,477.2 825,483.3 827,488.4 829.1,493.4 831.1,488.4 840.2,488.4 841.2,499.5 843.3,505.6 846.3,505.6 848.3,499.5 850.4,494.5 866.6,494.5 867.6,505.6 870.6,506.6 871.6,517.8 875.7,517.8 877.7,511.7 879.7,511.7 881.8,506.6 883.8,512.7 885.8,517.8 889.9,517.8 890.9,522.8 891.9,517.8 895,516.8 897,511.7 899,506.6 904.1,506.6 905.1,511.7 907.1,512.7 909.1,522.8 910.2,528.9 912.2,535 914.2,529.9 916.2,528.9 917.3,523.9 925.4,523.9 926.4,528.9 931.4,528.9 932.5,523.9 939.5,523.9 941.6,528.9 943.6,535 947.7,535 949.7,529.9 955.8,529.9 956.8,535 964.9,535 965.9,540.1 977.1,540.1 978.1,535 993.3,535 994.3,541.1 1004.4,541.1 1005.4,546.2 1008.5,546.2 1009.9,541.1 1011.5,546.2 1018.6,546.2 1020,551.2 1022.3,552 1024.3,558 1027.4,558 1029.4,552 1031.4,540.8 1033.4,534.7 1035.5,535.7 1037.5,540.8 1039.5,541.8 1041.6,552 1044.6,553 1046.6,558 1054.7,558 1056.8,552 1058.8,546.9 1060.8,540.8 1066.9,540.8 1068.9,546.9 1071,552 1076,546.9 1079.1,552 1086.2,546.9 1088.2,540.8 1091.2,535.7 1093.2,529.7 1099.3,529.7 1101.4,540.8 1103.4,546.9 1106.4,552 1108.5,546.9 1110.5,540.8 1117.6,539.8 1118.6,534.7 1119.6,540.8 1120.6,545.9 1124.7,545.9 1125.7,540.8 1152,540.8 1153.1,545.9 1155.1,535.7 1158.1,529.7 1167.2,529.7 1168.3,534.7 1172.3,534.7 1173.3,529.7 1175.3,534.7 1177.4,529.7 1188.5,529.7 1189.5,534.7 1191.6,535.7 1193.6,540.8 1195.6,534.7 1201.7,534.7 1203.7,529.7 1206.8,529.7 1208.8,534.7 1211.8,535.7 1213.9,540.8 1216.9,534.7 1218.9,529.7 1225,529.7 1227,535.7 1229.1,540.8 1230.1,545.9 1235.2,545.9 1236.2,540.8 1239.2,534.7 1241.2,529.7 1245.3,529.7 1246.3,534.7 1248.3,535.7 1250.4,540.8 1252.4,545.9 1255.4,540.8 1261.5,540.8 1263.5,546.9 1265.6,552 1267.6,546.9 1271.6,545.9 1272.7,540.8 1286.8,540.8 1288.9,545.9 1292.9,540.8 1296,545.9 1309.1,545.9 1311.2,552 1315.2,558 1317.3,552 1320.3,546.9 1322.3,540.8 1329.4,540.8 1330.4,545.9 1336.5,545.9 1337.5,540.8 1342.6,539.8 1344.6,534.7 1347.7,539.8 1351.7,540.8 1353.7,545.9 1358.8,545.9 1360.8,552 1364.9,552 1365.9,558 1371,558 1373,552 1379.1,552 1380.1,558 1383.1,558 1385.2,552 1387.2,540.8 1397.3,540.8 1399.4,546.9 1401.4,552 1403.4,553 1405.4,558 1408.5,563.1 1416.6,563.1 1417.6,558 1420,553 1424.3,552 1428.4,557.1 1445.6,557.1 1447.6,552 1454.7,552 1458.8,560.1 1461.8,563.2 1465.9,562.2 1469.9,557.1 1472,552 1475,552 1476,558.1 1505.4,558.1 1508.5,563.2 1512.5,562.2 1516.6,558.1 1520.6,558.1 1521.6,563.2 1528.7,563.2 1531.8,557.1 1539.9,557.1 1543.9,563.2 1550,563.2 1553.1,569.3 1557.1,575.3 1560.1,569.3 1563.2,563.2 1566.2,557.1 1570.3,553.1 1573.3,557.1 1576.4,563.2 1583.5,563.2 1588.5,563.2 1589.5,569.3 1592.6,569.3 1594.6,564.2 1604.7,564.2 1606.8,569.3 1610.8,569.3 1612.9,564.2 1643.3,564.2 1645.3,570.3 1648.3,575.3 1651.4,570.3 1654.4,569.3 1657.4,563.2 1660.5,564.2 1662.5,570.3 1664.5,575.3 1667.6,575.3 1669.6,569.3 1679.7,569.3 1681.8,575.3 1685.8,575.3 1687.9,569.3 1699,569.3 1701,575.3 1705.1,575.3 1707.1,569.3 1711.2,569.3 1714.2,563.2 1723.3,563.2 1726.4,569.3 1729.4,570.3 1732.5,575.3 1735.5,570.3 1738.5,575.3 1746.6,575.3 1748.7,570.3 1753.7,570.3 1755.8,575.3 1758.8,575.3 1760.8,570.3 1764.9,570.3 1766.9,575.3 1771,570.3 1775,575.3 1778.1,570.3 1782.1,575.3 1787.2,575.3 1789.2,569.3 1790.2,563.2 1795.3,563.2 1796.3,558.1 1802.4,558.1 1804.4,552 1809.5,552 1811.5,546 1814.6,546 1817.6,552 1820,557.1 1828,558.3 1829.4,552.6 1835.1,552.6 1835.8,558.3 1838.7,558.3 1840.1,564.1 1843,564.1 1844.4,569.8 1846.6,569.8 1848,564.1 1855.2,564.1 1855.9,569.1 1860.2,564.1 1863.1,569.1 1872.4,569.1 1873.8,575.5 1876.7,575.5 1878.1,581.3 1879.6,575.5 1881.4,581.3 1883.9,575.5 1886,569.1 1894.6,569.1 1896,575.5 1897.5,581.3 1901.8,581.3 1903.9,575.5 1906.8,575.5 1908.2,569.1 1912.5,569.1 1913.2,563.3 1924.7,563.3 1925.4,574.8 1933.3,574.8 1934.7,569.1 1941.9,569.1 1943.3,574.8 1944.8,581.3 1950.5,581.3 1952.7,574.8 1969.2,574.8 1969.9,581.3 1979.9,581.3 1980.9,574.8 1983.5,569.1 1985.6,574.8 1999.3,574.8 2000,581.3 2007.1,581.3 2007.9,586.3 2010,586.3 2010.7,581.3 2020.8,581.3 2022.9,574.8 2030.8,574.8 2032.2,569.8 2035.1,569.8 2036.5,574.8 2043.7,574.8 2045.8,581.3 2048,574.8 2050.1,570.5"/>
<polyline stroke="#800080" stroke-width="4.0" points="215.3,100 215.3,138.9 216.5,160.1 218.8,183.7 221.2,208.4 224.5,178.9 225.4,202.5 227.8,221.3 228.7,242.5 231.8,254.3 233.7,270.8 236.5,244.9 237.7,229.6 240.5,249.6 241.9,282.6 243.6,299.1 245.9,276.7 247.8,289.7 248.8,310.9 250.6,292 251.8,264.9 254.2,284.9 256.1,312 258.9,322.6 261.7,334.4 264.8,350.9 267.1,325 269.5,293.2 271.4,315.6 273,339.1 275.9,322.6 277.7,339.1 279.6,391 282.4,350.9 284.8,327.3 286.7,350.9 289,376.8 290.2,386.2 292.3,367.4 294.2,368.6 296.1,383.9 297.8,396.8 300.8,374.5 302.7,383.9 304.1,402.7 307.2,402.7 308.8,393.3 312.6,386.2 315.4,395.7 320.1,395.7 322,409.8 324.9,423.9 327.9,442.8 330.7,419.2 334.3,398 337.1,414.5 339,426.3 341.3,426.3 344.4,408.6 347.2,421.6 347.9,431 350.8,421.6 354.3,448.7 357.4,414.5 360.2,431 363.3,421.6 366.8,448.7 370.8,414.5 373.9,431 376.2,428.6 379,403.9 382.6,419.2 384.5,426.3 387.3,426.3 390.8,398 393.6,433.4 396.2,442.8 400.2,433.4 403.1,419.2 406.8,403.9 409.7,409.8 413.2,426.3 415.1,405.1 416.7,383.9 419.6,381.5 422.1,356.8 425,356.8 428,396.8 432,356.8 434.4,372.1 436.3,380.4 439.1,369.8 443.3,350.9 446.2,386.2 449.7,381.5 450.4,398 453.2,409.8 456.8,419.2 459.1,421.6 462.2,447.5 465,452.2 466.7,444 470.9,459.3 473.3,449.8 476.1,458.1 480.3,448.7 482.7,459.3 485.7,466.3 488.6,433.4 490.2,431 493.3,459.3 496.3,449.8 499.2,459.3 502.2,435.7 505.1,431 507.4,440.4 509.3,432.2 512.8,448.7 515.7,433.4 519.2,426.3 521.6,447.5 523.9,454.6 527.4,428.6 529.3,414.5 531.7,436.9 534.5,426.3 536.4,409.8 539.2,405.1 541.6,391 543.9,409.8 546.3,436.9 549.4,409.8 551,398 554.5,398 557.6,386.2 560,402.7 562.3,374.5 564,346.2 567,367.4 569.8,383.9 572.7,391 575.7,369.8 578.1,379.2 579.7,365 582.1,386.2 584.5,358 586.3,327.3 588,322.6 589.9,350.9 592.2,362.7 593.9,353.3 596.9,346.2 599.3,362.7 602.1,385.1 604.7,369.8 607.1,379.2 609.9,367.4 614.6,350.9 618.1,374.5 620,362.7 622.3,378.4 624.7,386.5 626.4,362.2 628,335.8 630.8,322.6 632.4,356.1 634.9,339.9 636.5,341.9 638.9,374.3 641.2,331.8 643,305.4 645,321.6 647.6,362.2 650.3,333.8 652.3,346 654.3,374.3 656.8,346 658.8,316.6 660.8,341.9 663.2,380.4 665.9,354.1 668.3,344.9 671,358.1 673,386.5 676,357.1 679.5,386.5 682.1,360.1 684.1,322.6 686.8,322.6 688.2,346 690.6,356.1 692.8,328.7 695.7,374.3 698.3,341.9 700.3,328.7 703,362.2 705.8,346 708.5,354.1 710.5,362.2 712.5,358.1 714.5,325.7 717,310.5 719.6,329.7 721.6,351 724.1,310.5 726.1,329.7 728.7,351 731.8,310.5 733.8,329.7 735.8,351 738.3,329.7 740.3,311.5 742.3,339.9 744.9,321.6 746.4,305.4 749,333.8 751,329.7 753.7,301.4 756.1,282.1 758.5,295.3 760.8,328.7 763.2,309.5 765.2,293.2 767.8,309.5 770.3,305.4 772.7,317.6 775.3,312.5 778.4,299.3 780.4,294.3 783.5,289.2 785.5,268.9 786.9,258.8 788.9,281.1 791.6,311.5 795.6,311.5 797.6,299.3 802.7,299.3 805.1,327.7 808.8,327.7 810.8,288.2 813.9,305.4 815.9,351 819.9,351 822.6,316.6 825,316.6 827.4,344.9 830.1,333.8 832.1,328.7 834.7,328.7 836.2,354.1 837.8,380.4 840.2,339.9 846.3,339.9 848.3,362.2 851.4,368.3 855.4,362.2 857.4,356.1 860.1,374.3 862.5,350 864.1,332.8 866.6,354.1 868.6,380.4 871,392.6 873.7,374.3 875.7,392.6 878.7,396.6 880.8,409.8 883.8,390.6 885.8,376.4 887.9,367.2 890.9,396.6 893.5,374.3 896,386.5 898,380.4 901,397.6 903.5,408.8 906.1,402.7 909.5,385.5 911.2,402.7 913.2,396.6 915.2,414.9 917.3,414.9 918.3,426 926.4,426 929.4,437.2 932.5,410.8 934.5,402.7 937.5,421 939.5,431.1 942.2,414.9 944.6,437.2 947.7,414.9 951.3,402.7 954.3,421 957.8,437.2 960.4,421 964.9,431.1 967.9,414.9 972,414.9 974.6,437.2 976.6,421 979.1,437.2 982.1,408.8 984.1,396.6 987.6,408.8 989.2,431.1 991.2,460.5 993.7,431.1 995.3,419.9 997.7,443.3 1000.4,443.3 1002.4,431.1 1005,460.5 1008.5,443.3 1012.5,425 1016.6,431.1 1018.6,465.6 1020,467.6 1021.3,471.8 1024.3,461.6 1027.4,459.6 1029.8,448.5 1032,465.7 1034.9,465.7 1038.1,442.4 1040.5,459.6 1042.6,471.8 1045.6,453.5 1048.7,427.2 1051.7,425.1 1054.3,439.3 1056.8,443.4 1059.2,441.4 1061.8,420.1 1064.5,441.4 1065.9,466.7 1068.9,443.4 1071.4,453.5 1074,441.4 1077,421.1 1080.1,403.9 1084.1,403.9 1086.2,431.2 1088.6,449.5 1090.6,429.2 1092.8,414 1095.3,429.2 1097.3,445.4 1099.7,460.6 1103.4,443.4 1105.8,453.5 1108.5,437.3 1111.5,453.5 1113.5,437.3 1116.2,425.1 1118.6,449.5 1120.6,466.7 1123.7,431.2 1126.1,420.1 1128.1,439.3 1130.8,453.5 1132.8,460.6 1134.8,437.3 1137.4,460.6 1139.9,451.5 1142.9,442.4 1146,466.7 1149,453.5 1151,431.2 1153.7,441.4 1155.7,453.5 1157.7,431.2 1160.1,407.9 1163.2,421.1 1165.2,414 1167.2,425.1 1169.3,439.3 1171.7,454.5 1173.9,431.2 1176,419.1 1178.4,396.8 1181.4,414 1184.1,425.1 1186.5,421.1 1188.5,437.3 1191.6,421.1 1194.6,414 1196.6,425.1 1199.7,420.1 1201.7,431.2 1203.7,443.4 1205.8,431.2 1207.8,443.4 1210.8,425.1 1212.9,392.7 1214.5,390.7 1216.5,417 1218.5,437.3 1221,443.4 1223,454.5 1225.4,437.3 1227.4,425.1 1230.1,437.3 1233.1,453.5 1236.2,437.3 1238.2,419.1 1239.8,414 1242.2,431.2 1244.3,443.4 1246.3,437.3 1248.3,460.6 1251.4,449.5 1253.4,441.4 1255.4,437.3 1258.5,449.5 1260.5,454.5 1262.9,460.6 1265.6,442.4 1267.6,453.5 1269.6,466.7 1272,441.4 1274.1,431.2 1276.7,448.5 1278.7,437.3 1281.8,460.6 1283.8,460.6 1286.2,437.3 1288.9,453.5 1290.9,477.8 1293.3,453.5 1295.6,437.3 1298,465.7 1300.4,477.8 1303.1,465.7 1306.1,459.6 1309.1,459.6 1311.2,477.8 1313.8,459.6 1315.8,448.5 1318.3,453.5 1320.3,466.7 1322.7,453.5 1325.4,442.4 1327.4,459.6 1328.8,477.8 1332.5,459.6 1334.5,465.7 1337.5,454.5 1342.6,454.5 1344.6,465.7 1346.6,471.8 1348.7,453.5 1350.1,437.3 1352.7,449.5 1354.8,459.6 1357.8,465.7 1359.8,477.8 1362.9,471.8 1365.5,448.5 1367.9,465.7 1371,483.9 1374,459.6 1377.1,437.3 1379.5,465.7 1381.5,483.9 1384.1,453.5 1385.8,437.3 1388.2,453.5 1390.2,466.7 1392.3,471.8 1394.3,460.6 1396.3,471.8 1398.3,465.7 1402.4,460.6 1404.8,477.8 1407.5,465.7 1409.9,448.5 1412.5,465.7 1416,489 1418.6,465.7 1420,459.6 1422.3,485.1 1424.7,481.1 1427.8,499.3 1430.4,460.8 1432.8,477 1435.5,487.2 1438.5,477 1441.6,485.1 1444.2,479.1 1446.6,493.2 1449.7,472 1452.3,485.1 1455.7,499.3 1458.8,479.1 1461.8,499.3 1464.9,481.1 1467.9,465.9 1470.5,493.2 1474,481.1 1478,475 1481.1,465.9 1483.5,481.1 1488.2,465.9 1490.2,487.2 1495.3,465.9 1497.3,481.1 1500.8,487.2 1505.4,465.9 1509.5,487.2 1511.5,477 1517.6,481.1 1520,472 1522.6,487.2 1525.7,499.3 1527.7,481.1 1530.8,478 1532.8,493.2 1535.8,499.3 1538.9,505.4 1541.9,493.2 1545.3,482.1 1548,493.2 1551,505.4 1555.1,505.4 1558.1,487.2 1561.8,472 1565.2,485.1 1567.2,499.3 1574.3,499.3 1577.4,488.2 1581.4,511.5 1584.5,483.1 1587.5,495.3 1589.5,505.4 1592.6,497.3 1596.2,489.2 1599.7,511.5 1602.7,501.4 1605.8,495.3 1607.8,505.4 1610.8,501.4 1613.9,517.6 1617.9,499.3 1621,493.2 1623.4,482.1 1626,499.3 1628.1,517.6 1630.5,501.4 1633.1,489.2 1635.6,517.6 1638.2,495.3 1641.2,478 1644.3,499.3 1646.9,517.6 1649.7,501.4 1653.4,511.5 1656.4,499.3 1658.5,511.5 1661.1,523.7 1663.5,499.3 1667.6,505.4 1670.6,489.2 1673.7,489.2 1675.7,499.3 1678.7,495.3 1681.8,511.5 1685.8,489.2 1689.9,489.2 1691.9,505.4 1694.3,489.2 1697,505.4 1700.4,523.7 1704.1,513.5 1707.1,499.3 1710.2,511.5 1714.2,511.5 1716.2,499.3 1719.3,511.5 1722.3,517.6 1725.4,499.3 1729.4,499.3 1733.5,523.7 1737.5,495.3 1741.6,523.7 1744.6,511.5 1748.7,499.3 1753.7,488.2 1756.8,505.4 1759.8,517.6 1764.5,495.3 1767.9,511.5 1772,499.3 1776,495.3 1779.1,505.4 1783.1,511.5 1786.2,495.3 1790.2,485.1 1794.3,472 1797.3,485.1 1801.4,483.1 1804.4,489.2 1806.4,493.2 1809.5,505.4 1812.5,495.3 1816.6,495.3 1820,487.2 1821.8,477.3 1823.7,487.4 1825.8,506 1828,494.5 1829.8,482.4 1831.5,490.2 1833.7,500.3 1835.8,483.1 1840.9,483.1 1841.6,497.4 1843.7,508.9 1845.2,518.2 1848,511.7 1850.2,507.4 1852.3,499.6 1855.2,499.6 1856.6,511.7 1858.1,517.5 1863.1,513.2 1864.5,523.2 1866.7,511.7 1868.1,506 1870.2,523.2 1872.4,516 1874.5,499.6 1877.4,499.6 1878.8,517.5 1881,511.7 1882.9,499.6 1885.3,511.7 1886.7,523.2 1890.3,523.2 1892.5,511.7 1893.9,499.6 1896,494.5 1898.9,503.1 1901.1,513.2 1902.5,523.2 1904.6,511.7 1906.8,499.6 1908.9,499.6 1910.4,523.2 1913.2,523.2 1915.4,517.5 1916.8,528.9 1922.6,528.9 1924.7,511.7 1927.3,499.6 1929,511.7 1930.7,517.5 1931.9,523.2 1934,513.2 1938.3,513.2 1940.5,506 1942.6,517.5 1945.5,523.2 1947.6,511.7 1949.8,506 1951.9,517.5 1954.8,528.9 1957.7,517.5 1962,517.5 1965.6,511.7 1969.9,511.7 1972,523.2 1974.2,535.4 1977,523.2 1979.2,517.5 1982.1,523.2 1984.2,511.7 1987.1,506 1989.2,497.4 1991.4,494.5 1992.8,511.7 1994.2,523.2 1997.1,523.2 2000.7,511.7 2003.6,517.5 2006.4,528.9 2009.3,528.9 2010.7,535.4 2013.6,523.2 2015.7,517.5 2017.9,528.9 2021.5,523.2 2025.1,517.5 2027.2,528.9 2028.9,535.4 2030.8,517.5 2032.9,506 2035.1,506 2037.2,523.2 2040.1,528.9 2042.7,535.4 2045.1,523.2 2047.3,517.5 2050.1,513.2"/>
<rect x="213" y="29" width="2" height="1492" fill="#000"/>
<rect x="213" y="29" width="1838" height="2" fill="#000"/>
<rect x="2049" y="29" width="2" height="1492" fill="#000"/>
<rect x="213" y="1518" width="1838" height="7" fill="#000"/>
<rect x="264.8" y="1521" width="7" height="15" fill="#000"/>
<rect x="401.9" y="1521" width="7" height="29" fill="#000"/>
<rect x="539.0" y="1521" width="7" height="15" fill="#000"/>
<rect x="676.0" y="1521" width="7" height="29" fill="#000"/>
<rect x="813.1" y="1521" width="7" height="15" fill="#000"/>
<rect x="950.2" y="1521" width="7" height="29" fill="#000"/>
<rect x="1087.2" y="1521" width="7" height="15" fill="#000"/>
<rect x="1224.3" y="1521" width="7" height="29" fill="#000"/>
<rect x="1361.4" y="1521" width="7" height="15" fill="#000"/>
<rect x="1498.4" y="1521" width="7" height="29" fill="#000"/>
<rect x="1635.5" y="1521" width="7" height="15" fill="#000"/>
<rect x="1772.6" y="1521" width="7" height="29" fill="#000"/>
<rect x="1909.6" y="1521" width="7" height="15" fill="#000"/>
<rect x="2046.7" y="1521" width="7" height="29" fill="#000"/>
</g>
<text class="tk" transform="translate(405.4,1617.9) scale(0.97,1)">10</text>
<text class="tk" transform="translate(679.5,1617.9) scale(0.97,1)">20</text>
<text class="tk" transform="translate(953.7,1617.9) scale(0.97,1)">30</text>
<text class="tk" transform="translate(1227.8,1617.9) scale(0.97,1)">40</text>
<text class="tk" transform="translate(1501.9,1617.9) scale(0.97,1)">50</text>
<text class="tk" transform="translate(1776.1,1617.9) scale(0.97,1)">60</text>
<text class="tk" transform="translate(2050.2,1617.9) scale(0.97,1)">70</text>
<text class="lb" x="1660" y="452.3">440min</text>
<text class="lb" x="1660" y="552.5">180min</text>
<text class="lb" x="1660" y="632.3">120min</text>
<text class="lb" x="1660" y="717.4">80min</text>
<text class="lb" x="1660" y="829.3">40min</text>
<text class="lb" x="1662" y="997">20min</text>
<text class="lb" x="1664" y="1397">0min</text>
<text class="xt" y="1771.8"><tspan x="871.1">2</tspan> <tspan x="928.5">Theta</tspan> <tspan x="1129.7">/</tspan> <tspan x="1167.2" style="letter-spacing:1.5px">deg</tspan></text>
<text class="yt" transform="translate(84,567) rotate(-90) scale(1,1.03)">I (CPS)</text>
</svg></body></html>
